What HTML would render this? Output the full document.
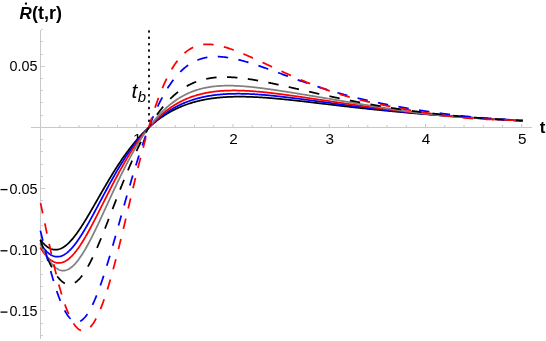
<!DOCTYPE html>
<html><head><meta charset="utf-8"><title>plot</title>
<style>
html,body{margin:0;padding:0;background:#fff;}
body{width:546px;height:341px;overflow:hidden;}
svg{display:block;font-family:"Liberation Sans",sans-serif;}
</style></head><body>
<div style="will-change:transform;width:546px;height:341px"><svg width="546" height="341" viewBox="0 0 546 341">
<rect width="546" height="341" fill="#fff"/>
<g stroke="#c8c8c8" stroke-width="1" fill="none" shape-rendering="crispEdges">
<line x1="31" y1="127.5" x2="532" y2="127.5"/>
<line x1="40.5" y1="29.5" x2="40.5" y2="338.6"/>
</g>
<g stroke="#cfcfcf" stroke-width="1" fill="none" shape-rendering="crispEdges">
<line x1="41.0" y1="335.50" x2="43.20" y2="335.50"/>
<line x1="41.0" y1="323.50" x2="43.20" y2="323.50"/>
<line x1="41.0" y1="310.50" x2="44.60" y2="310.50"/>
<line x1="41.0" y1="298.50" x2="43.20" y2="298.50"/>
<line x1="41.0" y1="286.50" x2="43.20" y2="286.50"/>
<line x1="41.0" y1="274.50" x2="43.20" y2="274.50"/>
<line x1="41.0" y1="261.50" x2="43.20" y2="261.50"/>
<line x1="41.0" y1="249.50" x2="44.60" y2="249.50"/>
<line x1="41.0" y1="237.50" x2="43.20" y2="237.50"/>
<line x1="41.0" y1="225.50" x2="43.20" y2="225.50"/>
<line x1="41.0" y1="213.50" x2="43.20" y2="213.50"/>
<line x1="41.0" y1="200.50" x2="43.20" y2="200.50"/>
<line x1="41.0" y1="188.50" x2="44.60" y2="188.50"/>
<line x1="41.0" y1="176.50" x2="43.20" y2="176.50"/>
<line x1="41.0" y1="164.50" x2="43.20" y2="164.50"/>
<line x1="41.0" y1="151.50" x2="43.20" y2="151.50"/>
<line x1="41.0" y1="139.50" x2="43.20" y2="139.50"/>
<line x1="41.0" y1="115.50" x2="43.20" y2="115.50"/>
<line x1="41.0" y1="102.50" x2="43.20" y2="102.50"/>
<line x1="41.0" y1="90.50" x2="43.20" y2="90.50"/>
<line x1="41.0" y1="78.50" x2="43.20" y2="78.50"/>
<line x1="41.0" y1="66.50" x2="44.60" y2="66.50"/>
<line x1="41.0" y1="54.50" x2="43.20" y2="54.50"/>
<line x1="41.0" y1="41.50" x2="43.20" y2="41.50"/>
<line x1="41.0" y1="29.50" x2="43.20" y2="29.50"/>
</g>
<g stroke="#c8c8c8" stroke-width="1" fill="none">
<line x1="59.75" y1="127.0" x2="59.75" y2="125.00"/>
<line x1="79.00" y1="127.0" x2="79.00" y2="125.00"/>
<line x1="98.25" y1="127.0" x2="98.25" y2="125.00"/>
<line x1="117.50" y1="127.0" x2="117.50" y2="125.00"/>
<line x1="136.75" y1="127.0" x2="136.75" y2="124.00"/>
<line x1="156.00" y1="127.0" x2="156.00" y2="125.00"/>
<line x1="175.25" y1="127.0" x2="175.25" y2="125.00"/>
<line x1="194.50" y1="127.0" x2="194.50" y2="125.00"/>
<line x1="213.75" y1="127.0" x2="213.75" y2="125.00"/>
<line x1="233.00" y1="127.0" x2="233.00" y2="124.00"/>
<line x1="252.25" y1="127.0" x2="252.25" y2="125.00"/>
<line x1="271.50" y1="127.0" x2="271.50" y2="125.00"/>
<line x1="290.75" y1="127.0" x2="290.75" y2="125.00"/>
<line x1="310.00" y1="127.0" x2="310.00" y2="125.00"/>
<line x1="329.25" y1="127.0" x2="329.25" y2="124.00"/>
<line x1="348.50" y1="127.0" x2="348.50" y2="125.00"/>
<line x1="367.75" y1="127.0" x2="367.75" y2="125.00"/>
<line x1="387.00" y1="127.0" x2="387.00" y2="125.00"/>
<line x1="406.25" y1="127.0" x2="406.25" y2="125.00"/>
<line x1="425.50" y1="127.0" x2="425.50" y2="124.00"/>
<line x1="444.75" y1="127.0" x2="444.75" y2="125.00"/>
<line x1="464.00" y1="127.0" x2="464.00" y2="125.00"/>
<line x1="483.25" y1="127.0" x2="483.25" y2="125.00"/>
<line x1="502.50" y1="127.0" x2="502.50" y2="125.00"/>
<line x1="521.75" y1="127.0" x2="521.75" y2="124.00"/>
</g>
<g font-size="14.4px" fill="#000">
<text x="137.15" y="143.9" text-anchor="middle" font-size="15.3px">1</text>
<text x="233.40" y="143.9" text-anchor="middle" font-size="15.3px">2</text>
<text x="329.65" y="143.9" text-anchor="middle" font-size="15.3px">3</text>
<text x="425.90" y="143.9" text-anchor="middle" font-size="15.3px">4</text>
<text x="522.15" y="143.9" text-anchor="middle" font-size="15.3px">5</text>
<text x="37.4" y="71.10" text-anchor="end">0.05</text>
<text x="37.4" y="193.60" text-anchor="end">0.05</text>
<rect x="0.55" y="188.95" width="6.95" height="1.3"/>
<text x="37.4" y="254.80" text-anchor="end">0.10</text>
<rect x="0.55" y="250.15" width="6.95" height="1.3"/>
<text x="37.4" y="316.10" text-anchor="end">0.15</text>
<rect x="0.55" y="311.45" width="6.95" height="1.3"/>
</g>
<g fill="#000">
<rect x="148.1" y="36.55" width="1.8" height="2.5" rx="0.6"/>
<rect x="148.1" y="42.93" width="1.8" height="2.5" rx="0.6"/>
<rect x="148.1" y="49.31" width="1.8" height="2.5" rx="0.6"/>
<rect x="148.1" y="55.69" width="1.8" height="2.5" rx="0.6"/>
<rect x="148.1" y="62.07" width="1.8" height="2.5" rx="0.6"/>
<rect x="148.1" y="68.45" width="1.8" height="2.5" rx="0.6"/>
<rect x="148.1" y="74.83" width="1.8" height="2.5" rx="0.6"/>
<rect x="148.1" y="81.21" width="1.8" height="2.5" rx="0.6"/>
<rect x="148.1" y="87.59" width="1.8" height="2.5" rx="0.6"/>
<rect x="148.1" y="93.97" width="1.8" height="2.5" rx="0.6"/>
<rect x="148.1" y="100.35" width="1.8" height="2.5" rx="0.6"/>
<rect x="148.1" y="106.73" width="1.8" height="2.5" rx="0.6"/>
<rect x="148.1" y="113.11" width="1.8" height="2.5" rx="0.6"/>
<rect x="148.1" y="119.49" width="1.8" height="2.5" rx="0.6"/>
<rect x="148.1" y="30.17" width="1.8" height="2.5" rx="0.6"/>
</g>
<g>
<path d="M40.31,239.65 L41.00,240.54 L41.69,241.40 L42.38,242.21 L43.07,242.99 L43.76,243.72 L44.45,244.41 L45.14,245.06 L45.83,245.67 L46.52,246.23 L47.21,246.75 L47.90,247.23 L48.59,247.67 L49.28,248.07 L49.97,248.42 L50.66,248.73 L51.35,249.00 L52.04,249.22 L52.73,249.41 L53.42,249.55 L54.11,249.65 L54.80,249.71 L55.49,249.73 L56.18,249.71 L56.87,249.65 L57.56,249.55 L58.25,249.41 L58.94,249.23 L59.63,249.01 L60.32,248.76 L61.01,248.47 L61.70,248.14 L62.39,247.78 L63.08,247.39 L63.77,246.95 L64.47,246.49 L65.16,245.99 L65.85,245.46 L66.54,244.90 L67.23,244.31 L67.92,243.69 L68.61,243.04 L69.30,242.36 L69.99,241.65 L70.68,240.91 L71.37,240.15 L72.06,239.37 L72.75,238.56 L73.44,237.72 L74.13,236.87 L74.82,235.99 L75.51,235.09 L76.20,234.16 L76.89,233.22 L77.58,232.26 L78.27,231.28 L78.96,230.29 L79.65,229.27 L80.34,228.24 L81.03,227.20 L81.72,226.14 L82.41,225.07 L83.10,223.98 L83.79,222.88 L84.48,221.77 L85.17,220.65 L85.86,219.52 L86.55,218.38 L87.24,217.23 L87.93,216.07 L88.62,214.91 L89.31,213.74 L90.00,212.56 L90.69,211.37 L91.38,210.18 L92.07,208.99 L92.76,207.79 L93.45,206.59 L94.14,205.39 L94.83,204.18 L95.52,202.97 L96.22,201.76 L96.91,200.55 L97.60,199.34 L98.29,198.13 L98.98,196.92 L99.67,195.72 L100.36,194.51 L101.05,193.30 L101.74,192.10 L102.43,190.90 L103.12,189.70 L103.81,188.51 L104.50,187.32 L105.19,186.13 L105.88,184.95 L106.57,183.77 L107.26,182.60 L107.95,181.44 L108.64,180.28 L109.33,179.12 L110.02,177.97 L110.71,176.83 L111.40,175.70 L112.09,174.57 L112.78,173.45 L113.47,172.33 L114.16,171.23 L114.85,170.13 L115.54,169.04 L116.23,167.96 L116.92,166.88 L117.61,165.82 L118.30,164.76 L118.99,163.71 L119.68,162.67 L120.37,161.64 L121.06,160.62 L121.75,159.60 L122.44,158.60 L123.13,157.60 L123.82,156.62 L124.51,155.64 L125.20,154.68 L125.89,153.72 L126.58,152.77 L127.27,151.84 L127.97,150.91 L128.66,149.99 L129.35,149.08 L130.04,148.18 L130.73,147.30 L131.42,146.42 L132.11,145.55 L132.80,144.69 L133.49,143.84 L134.18,143.00 L134.87,142.17 L135.56,141.35 L136.25,140.54 L136.94,139.74 L137.63,138.95 L138.32,138.17 L139.01,137.40 L139.70,136.64 L140.39,135.89 L141.08,135.15 L141.77,134.42 L142.46,133.69 L143.15,132.98 L143.84,132.28 L144.53,131.59 L145.22,130.90 L145.91,130.23 L146.60,129.56 L147.29,128.90 L147.98,128.26 L148.67,127.62 L149.36,126.99 L150.05,126.37 L150.74,125.76 L151.43,125.15 L152.12,124.56 L152.81,123.98 L153.50,123.40 L154.19,122.83 L154.88,122.27 L155.57,121.72 L156.26,121.18 L156.95,120.64 L157.64,120.12 L158.33,119.60 L159.03,119.09 L159.72,118.59 L160.41,118.09 L161.10,117.61 L161.79,117.13 L162.48,116.66 L163.17,116.20 L163.86,115.74 L164.55,115.29 L165.24,114.85 L165.93,114.42 L166.62,113.99 L167.31,113.57 L168.00,113.16 L168.69,112.76 L169.38,112.36 L170.07,111.97 L170.76,111.59 L171.45,111.21 L172.14,110.84 L172.83,110.47 L173.52,110.12 L174.21,109.76 L174.90,109.42 L175.59,109.08 L176.28,108.75 L176.97,108.42 L177.66,108.10 L178.35,107.79 L179.04,107.48 L179.73,107.18 L180.42,106.88 L181.11,106.59 L181.80,106.30 L182.49,106.02 L183.18,105.75 L183.87,105.48 L184.56,105.22 L185.25,104.96 L185.94,104.71 L186.63,104.46 L187.32,104.21 L188.01,103.98 L188.70,103.74 L189.39,103.52 L190.08,103.29 L190.78,103.08 L191.47,102.86 L192.16,102.65 L192.85,102.45 L193.54,102.25 L194.23,102.06 L194.92,101.86 L195.61,101.68 L196.30,101.50 L196.99,101.32 L197.68,101.15 L198.37,100.98 L199.06,100.81 L199.75,100.65 L200.44,100.49 L201.13,100.34 L201.82,100.19 L202.51,100.04 L203.20,99.90 L203.89,99.77 L204.58,99.63 L205.27,99.50 L205.96,99.37 L206.65,99.25 L207.34,99.13 L208.03,99.01 L208.72,98.90 L209.41,98.79 L210.10,98.68 L210.79,98.58 L211.48,98.48 L212.17,98.39 L212.86,98.29 L213.55,98.20 L214.24,98.11 L214.93,98.03 L215.62,97.95 L216.31,97.87 L217.00,97.79 L217.69,97.72 L218.38,97.65 L219.07,97.58 L219.76,97.52 L220.45,97.46 L221.14,97.40 L221.83,97.34 L222.53,97.29 L223.22,97.24 L223.91,97.19 L224.60,97.14 L225.29,97.10 L225.98,97.05 L226.67,97.02 L227.36,96.98 L228.05,96.94 L228.74,96.91 L229.43,96.88 L230.12,96.85 L230.81,96.83 L231.50,96.80 L232.19,96.78 L232.88,96.76 L233.57,96.75 L234.26,96.73 L234.95,96.72 L235.64,96.71 L236.33,96.70 L237.02,96.69 L237.71,96.68 L238.40,96.68 L239.09,96.68 L239.78,96.68 L240.47,96.68 L241.16,96.68 L241.85,96.69 L242.54,96.69 L243.23,96.70 L243.92,96.71 L244.61,96.72 L245.30,96.73 L245.99,96.75 L246.68,96.77 L247.37,96.78 L248.06,96.80 L248.75,96.82 L249.44,96.84 L250.13,96.87 L250.82,96.89 L251.51,96.92 L252.20,96.95 L252.89,96.97 L253.59,97.01 L254.28,97.04 L254.97,97.07 L255.66,97.10 L256.35,97.14 L257.04,97.17 L257.73,97.21 L258.42,97.25 L259.11,97.29 L259.80,97.33 L260.49,97.37 L261.18,97.42 L261.87,97.46 L262.56,97.50 L263.25,97.55 L263.94,97.60 L264.63,97.65 L265.32,97.69 L266.01,97.74 L266.70,97.80 L267.39,97.85 L268.08,97.90 L268.77,97.95 L269.46,98.01 L270.15,98.06 L270.84,98.12 L271.53,98.18 L272.22,98.23 L272.91,98.29 L273.60,98.35 L274.29,98.41 L274.98,98.47 L275.67,98.53 L276.36,98.59 L277.05,98.66 L277.74,98.72 L278.43,98.78 L279.12,98.85 L279.81,98.91 L280.50,98.98 L281.19,99.05 L281.88,99.11 L282.57,99.18 L283.26,99.25 L283.95,99.32 L284.64,99.39 L285.34,99.46 L286.03,99.53 L286.72,99.60 L287.41,99.67 L288.10,99.74 L288.79,99.81 L289.48,99.89 L290.17,99.96 L290.86,100.03 L291.55,100.11 L292.24,100.18 L292.93,100.25 L293.62,100.33 L294.31,100.40 L295.00,100.48 L295.69,100.56 L296.38,100.63 L297.07,100.71 L297.76,100.79 L298.45,100.86 L299.14,100.94 L299.83,101.02 L300.52,101.10 L301.21,101.17 L301.90,101.25 L302.59,101.33 L303.28,101.41 L303.97,101.49 L304.66,101.57 L305.35,101.65 L306.04,101.73 L306.73,101.81 L307.42,101.89 L308.11,101.97 L308.80,102.05 L309.49,102.13 L310.18,102.21 L310.87,102.29 L311.56,102.37 L312.25,102.45 L312.94,102.53 L313.63,102.62 L314.32,102.70 L315.01,102.78 L315.70,102.86 L316.39,102.94 L317.09,103.02 L317.78,103.11 L318.47,103.19 L319.16,103.27 L319.85,103.35 L320.54,103.43 L321.23,103.51 L321.92,103.60 L322.61,103.68 L323.30,103.76 L323.99,103.84 L324.68,103.92 L325.37,104.00 L326.06,104.09 L326.75,104.17 L327.44,104.25 L328.13,104.33 L328.82,104.41 L329.51,104.50 L330.20,104.58 L330.89,104.66 L331.58,104.74 L332.27,104.82 L332.96,104.90 L333.65,104.98 L334.34,105.06 L335.03,105.15 L335.72,105.23 L336.41,105.31 L337.10,105.39 L337.79,105.47 L338.48,105.55 L339.17,105.63 L339.86,105.71 L340.55,105.79 L341.24,105.87 L341.93,105.95 L342.62,106.03 L343.31,106.11 L344.00,106.19 L344.69,106.27 L345.38,106.35 L346.07,106.43 L346.76,106.50 L347.45,106.58 L348.15,106.66 L348.84,106.74 L349.53,106.82 L350.22,106.90 L350.91,106.97 L351.60,107.05 L352.29,107.13 L352.98,107.21 L353.67,107.28 L354.36,107.36 L355.05,107.44 L355.74,107.52 L356.43,107.59 L357.12,107.67 L357.81,107.74 L358.50,107.82 L359.19,107.90 L359.88,107.97 L360.57,108.05 L361.26,108.12 L361.95,108.20 L362.64,108.27 L363.33,108.35 L364.02,108.42 L364.71,108.49 L365.40,108.57 L366.09,108.64 L366.78,108.72 L367.47,108.79 L368.16,108.86 L368.85,108.93 L369.54,109.01 L370.23,109.08 L370.92,109.15 L371.61,109.22 L372.30,109.30 L372.99,109.37 L373.68,109.44 L374.37,109.51 L375.06,109.58 L375.75,109.65 L376.44,109.72 L377.13,109.79 L377.82,109.86 L378.51,109.93 L379.20,110.00 L379.90,110.07 L380.59,110.14 L381.28,110.21 L381.97,110.28 L382.66,110.35 L383.35,110.41 L384.04,110.48 L384.73,110.55 L385.42,110.62 L386.11,110.69 L386.80,110.75 L387.49,110.82 L388.18,110.89 L388.87,110.95 L389.56,111.02 L390.25,111.09 L390.94,111.15 L391.63,111.22 L392.32,111.28 L393.01,111.35 L393.70,111.41 L394.39,111.48 L395.08,111.54 L395.77,111.61 L396.46,111.67 L397.15,111.74 L397.84,111.80 L398.53,111.86 L399.22,111.93 L399.91,111.99 L400.60,112.05 L401.29,112.11 L401.98,112.18 L402.67,112.24 L403.36,112.30 L404.05,112.36 L404.74,112.43 L405.43,112.49 L406.12,112.55 L406.81,112.61 L407.50,112.67 L408.19,112.73 L408.88,112.79 L409.57,112.85 L410.26,112.91 L410.95,112.97 L411.65,113.03 L412.34,113.09 L413.03,113.15 L413.72,113.21 L414.41,113.27 L415.10,113.33 L415.79,113.39 L416.48,113.44 L417.17,113.50 L417.86,113.56 L418.55,113.62 L419.24,113.68 L419.93,113.73 L420.62,113.79 L421.31,113.85 L422.00,113.91 L422.69,113.96 L423.38,114.02 L424.07,114.08 L424.76,114.13 L425.45,114.19 L426.14,114.24 L426.83,114.30 L427.52,114.35 L428.21,114.41 L428.90,114.47 L429.59,114.52 L430.28,114.58 L430.97,114.63 L431.66,114.69 L432.35,114.74 L433.04,114.79 L433.73,114.85 L434.42,114.90 L435.11,114.96 L435.80,115.01 L436.49,115.06 L437.18,115.12 L437.87,115.17 L438.56,115.22 L439.25,115.28 L439.94,115.33 L440.63,115.38 L441.32,115.43 L442.01,115.49 L442.71,115.54 L443.40,115.59 L444.09,115.64 L444.78,115.69 L445.47,115.75 L446.16,115.80 L446.85,115.85 L447.54,115.90 L448.23,115.95 L448.92,116.00 L449.61,116.05 L450.30,116.10 L450.99,116.16 L451.68,116.21 L452.37,116.26 L453.06,116.31 L453.75,116.36 L454.44,116.41 L455.13,116.46 L455.82,116.51 L456.51,116.56 L457.20,116.60 L457.89,116.65 L458.58,116.70 L459.27,116.75 L459.96,116.80 L460.65,116.85 L461.34,116.90 L462.03,116.95 L462.72,117.00 L463.41,117.04 L464.10,117.09 L464.79,117.14 L465.48,117.19 L466.17,117.24 L466.86,117.28 L467.55,117.33 L468.24,117.38 L468.93,117.43 L469.62,117.47 L470.31,117.52 L471.00,117.57 L471.69,117.61 L472.38,117.66 L473.07,117.71 L473.76,117.75 L474.46,117.80 L475.15,117.85 L475.84,117.89 L476.53,117.94 L477.22,117.99 L477.91,118.03 L478.60,118.08 L479.29,118.12 L479.98,118.17 L480.67,118.21 L481.36,118.26 L482.05,118.30 L482.74,118.35 L483.43,118.39 L484.12,118.44 L484.81,118.48 L485.50,118.53 L486.19,118.57 L486.88,118.61 L487.57,118.66 L488.26,118.70 L488.95,118.75 L489.64,118.79 L490.33,118.83 L491.02,118.88 L491.71,118.92 L492.40,118.96 L493.09,119.01 L493.78,119.05 L494.47,119.09 L495.16,119.13 L495.85,119.18 L496.54,119.22 L497.23,119.26 L497.92,119.30 L498.61,119.34 L499.30,119.38 L499.99,119.43 L500.68,119.47 L501.37,119.51 L502.06,119.55 L502.75,119.59 L503.44,119.63 L504.13,119.67 L504.82,119.71 L505.51,119.75 L506.21,119.79 L506.90,119.83 L507.59,119.87 L508.28,119.91 L508.97,119.95 L509.66,119.99 L510.35,120.03 L511.04,120.07 L511.73,120.11 L512.42,120.15 L513.11,120.18 L513.80,120.22 L514.49,120.26 L515.18,120.30 L515.87,120.34 L516.56,120.37 L517.25,120.41 L517.94,120.45 L518.63,120.48 L519.32,120.52 L520.01,120.56 L520.70,120.59 L521.39,120.63 L522.08,120.67 L522.77,120.70" fill="none" stroke="#000000" stroke-width="1.75"/>
<path d="M40.31,243.42 L41.00,244.47 L41.69,245.48 L42.38,246.45 L43.07,247.38 L43.76,248.26 L44.45,249.11 L45.14,249.91 L45.83,250.66 L46.52,251.38 L47.21,252.04 L47.90,252.67 L48.59,253.25 L49.28,253.78 L49.97,254.27 L50.66,254.72 L51.35,255.12 L52.04,255.48 L52.73,255.79 L53.42,256.06 L54.11,256.28 L54.80,256.46 L55.49,256.59 L56.18,256.68 L56.87,256.73 L57.56,256.74 L58.25,256.70 L58.94,256.62 L59.63,256.50 L60.32,256.33 L61.01,256.13 L61.70,255.89 L62.39,255.60 L63.08,255.28 L63.77,254.92 L64.47,254.52 L65.16,254.09 L65.85,253.62 L66.54,253.11 L67.23,252.57 L67.92,251.99 L68.61,251.38 L69.30,250.74 L69.99,250.07 L70.68,249.37 L71.37,248.63 L72.06,247.87 L72.75,247.07 L73.44,246.25 L74.13,245.41 L74.82,244.53 L75.51,243.64 L76.20,242.71 L76.89,241.77 L77.58,240.80 L78.27,239.80 L78.96,238.79 L79.65,237.76 L80.34,236.71 L81.03,235.64 L81.72,234.55 L82.41,233.44 L83.10,232.32 L83.79,231.18 L84.48,230.03 L85.17,228.86 L85.86,227.68 L86.55,226.49 L87.24,225.29 L87.93,224.07 L88.62,222.85 L89.31,221.61 L90.00,220.37 L90.69,219.12 L91.38,217.86 L92.07,216.59 L92.76,215.32 L93.45,214.05 L94.14,212.76 L94.83,211.48 L95.52,210.19 L96.22,208.90 L96.91,207.60 L97.60,206.30 L98.29,205.01 L98.98,203.71 L99.67,202.41 L100.36,201.11 L101.05,199.81 L101.74,198.51 L102.43,197.22 L103.12,195.92 L103.81,194.63 L104.50,193.34 L105.19,192.06 L105.88,190.77 L106.57,189.50 L107.26,188.22 L107.95,186.96 L108.64,185.69 L109.33,184.43 L110.02,183.18 L110.71,181.94 L111.40,180.70 L112.09,179.47 L112.78,178.24 L113.47,177.02 L114.16,175.81 L114.85,174.61 L115.54,173.41 L116.23,172.23 L116.92,171.05 L117.61,169.88 L118.30,168.71 L118.99,167.56 L119.68,166.42 L120.37,165.28 L121.06,164.16 L121.75,163.04 L122.44,161.94 L123.13,160.84 L123.82,159.76 L124.51,158.68 L125.20,157.61 L125.89,156.56 L126.58,155.51 L127.27,154.48 L127.97,153.45 L128.66,152.44 L129.35,151.43 L130.04,150.44 L130.73,149.45 L131.42,148.48 L132.11,147.52 L132.80,146.57 L133.49,145.63 L134.18,144.70 L134.87,143.78 L135.56,142.87 L136.25,141.98 L136.94,141.09 L137.63,140.21 L138.32,139.35 L139.01,138.49 L139.70,137.65 L140.39,136.82 L141.08,135.99 L141.77,135.18 L142.46,134.38 L143.15,133.59 L143.84,132.81 L144.53,132.04 L145.22,131.28 L145.91,130.53 L146.60,129.79 L147.29,129.06 L147.98,128.34 L148.67,127.63 L149.36,126.93 L150.05,126.24 L150.74,125.56 L151.43,124.89 L152.12,124.24 L152.81,123.59 L153.50,122.95 L154.19,122.32 L154.88,121.69 L155.57,121.08 L156.26,120.48 L156.95,119.89 L157.64,119.30 L158.33,118.73 L159.03,118.16 L159.72,117.61 L160.41,117.06 L161.10,116.52 L161.79,115.99 L162.48,115.47 L163.17,114.95 L163.86,114.45 L164.55,113.95 L165.24,113.47 L165.93,112.99 L166.62,112.51 L167.31,112.05 L168.00,111.60 L168.69,111.15 L169.38,110.71 L170.07,110.28 L170.76,109.85 L171.45,109.43 L172.14,109.02 L172.83,108.62 L173.52,108.23 L174.21,107.84 L174.90,107.46 L175.59,107.08 L176.28,106.72 L176.97,106.36 L177.66,106.01 L178.35,105.66 L179.04,105.32 L179.73,104.99 L180.42,104.66 L181.11,104.34 L181.80,104.03 L182.49,103.72 L183.18,103.42 L183.87,103.12 L184.56,102.83 L185.25,102.55 L185.94,102.27 L186.63,102.00 L187.32,101.74 L188.01,101.48 L188.70,101.22 L189.39,100.97 L190.08,100.73 L190.78,100.49 L191.47,100.26 L192.16,100.03 L192.85,99.81 L193.54,99.59 L194.23,99.38 L194.92,99.17 L195.61,98.97 L196.30,98.77 L196.99,98.58 L197.68,98.39 L198.37,98.21 L199.06,98.03 L199.75,97.86 L200.44,97.69 L201.13,97.52 L201.82,97.36 L202.51,97.20 L203.20,97.05 L203.89,96.90 L204.58,96.76 L205.27,96.62 L205.96,96.48 L206.65,96.35 L207.34,96.22 L208.03,96.10 L208.72,95.98 L209.41,95.86 L210.10,95.75 L210.79,95.64 L211.48,95.54 L212.17,95.43 L212.86,95.33 L213.55,95.24 L214.24,95.15 L214.93,95.06 L215.62,94.97 L216.31,94.89 L217.00,94.81 L217.69,94.74 L218.38,94.67 L219.07,94.60 L219.76,94.53 L220.45,94.47 L221.14,94.41 L221.83,94.35 L222.53,94.29 L223.22,94.24 L223.91,94.19 L224.60,94.15 L225.29,94.10 L225.98,94.06 L226.67,94.02 L227.36,93.99 L228.05,93.95 L228.74,93.92 L229.43,93.90 L230.12,93.87 L230.81,93.85 L231.50,93.82 L232.19,93.81 L232.88,93.79 L233.57,93.78 L234.26,93.76 L234.95,93.75 L235.64,93.75 L236.33,93.74 L237.02,93.74 L237.71,93.74 L238.40,93.74 L239.09,93.74 L239.78,93.74 L240.47,93.75 L241.16,93.76 L241.85,93.77 L242.54,93.78 L243.23,93.79 L243.92,93.81 L244.61,93.83 L245.30,93.85 L245.99,93.87 L246.68,93.89 L247.37,93.91 L248.06,93.94 L248.75,93.97 L249.44,94.00 L250.13,94.03 L250.82,94.06 L251.51,94.09 L252.20,94.13 L252.89,94.16 L253.59,94.20 L254.28,94.24 L254.97,94.28 L255.66,94.32 L256.35,94.37 L257.04,94.41 L257.73,94.46 L258.42,94.50 L259.11,94.55 L259.80,94.60 L260.49,94.65 L261.18,94.70 L261.87,94.76 L262.56,94.81 L263.25,94.87 L263.94,94.92 L264.63,94.98 L265.32,95.04 L266.01,95.10 L266.70,95.16 L267.39,95.22 L268.08,95.28 L268.77,95.35 L269.46,95.41 L270.15,95.48 L270.84,95.54 L271.53,95.61 L272.22,95.68 L272.91,95.74 L273.60,95.81 L274.29,95.88 L274.98,95.96 L275.67,96.03 L276.36,96.10 L277.05,96.17 L277.74,96.25 L278.43,96.32 L279.12,96.40 L279.81,96.47 L280.50,96.55 L281.19,96.63 L281.88,96.70 L282.57,96.78 L283.26,96.86 L283.95,96.94 L284.64,97.02 L285.34,97.10 L286.03,97.19 L286.72,97.27 L287.41,97.35 L288.10,97.43 L288.79,97.52 L289.48,97.60 L290.17,97.68 L290.86,97.77 L291.55,97.85 L292.24,97.94 L292.93,98.03 L293.62,98.11 L294.31,98.20 L295.00,98.29 L295.69,98.37 L296.38,98.46 L297.07,98.55 L297.76,98.64 L298.45,98.73 L299.14,98.82 L299.83,98.91 L300.52,99.00 L301.21,99.09 L301.90,99.18 L302.59,99.27 L303.28,99.36 L303.97,99.45 L304.66,99.54 L305.35,99.63 L306.04,99.72 L306.73,99.82 L307.42,99.91 L308.11,100.00 L308.80,100.09 L309.49,100.19 L310.18,100.28 L310.87,100.37 L311.56,100.46 L312.25,100.56 L312.94,100.65 L313.63,100.74 L314.32,100.84 L315.01,100.93 L315.70,101.02 L316.39,101.12 L317.09,101.21 L317.78,101.30 L318.47,101.40 L319.16,101.49 L319.85,101.59 L320.54,101.68 L321.23,101.77 L321.92,101.87 L322.61,101.96 L323.30,102.06 L323.99,102.15 L324.68,102.24 L325.37,102.34 L326.06,102.43 L326.75,102.53 L327.44,102.62 L328.13,102.71 L328.82,102.81 L329.51,102.90 L330.20,102.99 L330.89,103.09 L331.58,103.18 L332.27,103.27 L332.96,103.37 L333.65,103.46 L334.34,103.55 L335.03,103.65 L335.72,103.74 L336.41,103.83 L337.10,103.92 L337.79,104.02 L338.48,104.11 L339.17,104.20 L339.86,104.29 L340.55,104.39 L341.24,104.48 L341.93,104.57 L342.62,104.66 L343.31,104.75 L344.00,104.84 L344.69,104.94 L345.38,105.03 L346.07,105.12 L346.76,105.21 L347.45,105.30 L348.15,105.39 L348.84,105.48 L349.53,105.57 L350.22,105.66 L350.91,105.75 L351.60,105.84 L352.29,105.93 L352.98,106.02 L353.67,106.10 L354.36,106.19 L355.05,106.28 L355.74,106.37 L356.43,106.46 L357.12,106.54 L357.81,106.63 L358.50,106.72 L359.19,106.81 L359.88,106.89 L360.57,106.98 L361.26,107.07 L361.95,107.15 L362.64,107.24 L363.33,107.32 L364.02,107.41 L364.71,107.49 L365.40,107.58 L366.09,107.66 L366.78,107.75 L367.47,107.83 L368.16,107.92 L368.85,108.00 L369.54,108.08 L370.23,108.17 L370.92,108.25 L371.61,108.33 L372.30,108.42 L372.99,108.50 L373.68,108.58 L374.37,108.66 L375.06,108.74 L375.75,108.83 L376.44,108.91 L377.13,108.99 L377.82,109.07 L378.51,109.15 L379.20,109.23 L379.90,109.31 L380.59,109.39 L381.28,109.47 L381.97,109.54 L382.66,109.62 L383.35,109.70 L384.04,109.78 L384.73,109.86 L385.42,109.94 L386.11,110.01 L386.80,110.09 L387.49,110.17 L388.18,110.24 L388.87,110.32 L389.56,110.40 L390.25,110.47 L390.94,110.55 L391.63,110.62 L392.32,110.70 L393.01,110.77 L393.70,110.85 L394.39,110.92 L395.08,110.99 L395.77,111.07 L396.46,111.14 L397.15,111.21 L397.84,111.29 L398.53,111.36 L399.22,111.43 L399.91,111.50 L400.60,111.58 L401.29,111.65 L401.98,111.72 L402.67,111.79 L403.36,111.86 L404.05,111.93 L404.74,112.00 L405.43,112.07 L406.12,112.14 L406.81,112.21 L407.50,112.28 L408.19,112.35 L408.88,112.42 L409.57,112.49 L410.26,112.56 L410.95,112.62 L411.65,112.69 L412.34,112.76 L413.03,112.83 L413.72,112.89 L414.41,112.96 L415.10,113.03 L415.79,113.09 L416.48,113.16 L417.17,113.22 L417.86,113.29 L418.55,113.36 L419.24,113.42 L419.93,113.48 L420.62,113.55 L421.31,113.61 L422.00,113.68 L422.69,113.74 L423.38,113.81 L424.07,113.87 L424.76,113.93 L425.45,113.99 L426.14,114.06 L426.83,114.12 L427.52,114.18 L428.21,114.24 L428.90,114.31 L429.59,114.37 L430.28,114.43 L430.97,114.49 L431.66,114.55 L432.35,114.61 L433.04,114.67 L433.73,114.73 L434.42,114.79 L435.11,114.85 L435.80,114.91 L436.49,114.97 L437.18,115.03 L437.87,115.09 L438.56,115.14 L439.25,115.20 L439.94,115.26 L440.63,115.32 L441.32,115.38 L442.01,115.43 L442.71,115.49 L443.40,115.55 L444.09,115.60 L444.78,115.66 L445.47,115.72 L446.16,115.77 L446.85,115.83 L447.54,115.88 L448.23,115.94 L448.92,116.00 L449.61,116.05 L450.30,116.10 L450.99,116.16 L451.68,116.21 L452.37,116.27 L453.06,116.32 L453.75,116.38 L454.44,116.43 L455.13,116.48 L455.82,116.54 L456.51,116.59 L457.20,116.64 L457.89,116.69 L458.58,116.75 L459.27,116.80 L459.96,116.85 L460.65,116.90 L461.34,116.95 L462.03,117.00 L462.72,117.05 L463.41,117.11 L464.10,117.16 L464.79,117.21 L465.48,117.26 L466.17,117.31 L466.86,117.36 L467.55,117.41 L468.24,117.45 L468.93,117.50 L469.62,117.55 L470.31,117.60 L471.00,117.65 L471.69,117.70 L472.38,117.75 L473.07,117.79 L473.76,117.84 L474.46,117.89 L475.15,117.94 L475.84,117.98 L476.53,118.03 L477.22,118.08 L477.91,118.12 L478.60,118.17 L479.29,118.22 L479.98,118.26 L480.67,118.31 L481.36,118.35 L482.05,118.40 L482.74,118.44 L483.43,118.49 L484.12,118.53 L484.81,118.58 L485.50,118.62 L486.19,118.66 L486.88,118.71 L487.57,118.75 L488.26,118.79 L488.95,118.84 L489.64,118.88 L490.33,118.92 L491.02,118.96 L491.71,119.01 L492.40,119.05 L493.09,119.09 L493.78,119.13 L494.47,119.17 L495.16,119.21 L495.85,119.26 L496.54,119.30 L497.23,119.34 L497.92,119.38 L498.61,119.42 L499.30,119.46 L499.99,119.49 L500.68,119.53 L501.37,119.57 L502.06,119.61 L502.75,119.65 L503.44,119.69 L504.13,119.73 L504.82,119.76 L505.51,119.80 L506.21,119.84 L506.90,119.88 L507.59,119.91 L508.28,119.95 L508.97,119.99 L509.66,120.02 L510.35,120.06 L511.04,120.09 L511.73,120.13 L512.42,120.16 L513.11,120.20 L513.80,120.23 L514.49,120.27 L515.18,120.30 L515.87,120.33 L516.56,120.37 L517.25,120.40 L517.94,120.43 L518.63,120.47 L519.32,120.50 L520.01,120.53 L520.70,120.56 L521.39,120.60 L522.08,120.63 L522.77,120.66" fill="none" stroke="#0000ff" stroke-width="1.75"/>
<path d="M40.31,247.56 L41.00,248.66 L41.69,249.73 L42.38,250.76 L43.07,251.75 L43.76,252.70 L44.45,253.61 L45.14,254.49 L45.83,255.32 L46.52,256.10 L47.21,256.85 L47.90,257.55 L48.59,258.22 L49.28,258.84 L49.97,259.41 L50.66,259.94 L51.35,260.43 L52.04,260.88 L52.73,261.28 L53.42,261.64 L54.11,261.96 L54.80,262.23 L55.49,262.46 L56.18,262.64 L56.87,262.79 L57.56,262.89 L58.25,262.94 L58.94,262.96 L59.63,262.93 L60.32,262.86 L61.01,262.75 L61.70,262.60 L62.39,262.41 L63.08,262.18 L63.77,261.91 L64.47,261.60 L65.16,261.25 L65.85,260.86 L66.54,260.44 L67.23,259.98 L67.92,259.48 L68.61,258.95 L69.30,258.38 L69.99,257.78 L70.68,257.14 L71.37,256.47 L72.06,255.77 L72.75,255.04 L73.44,254.28 L74.13,253.49 L74.82,252.66 L75.51,251.81 L76.20,250.94 L76.89,250.03 L77.58,249.10 L78.27,248.14 L78.96,247.16 L79.65,246.16 L80.34,245.13 L81.03,244.08 L81.72,243.01 L82.41,241.92 L83.10,240.80 L83.79,239.67 L84.48,238.52 L85.17,237.36 L85.86,236.17 L86.55,234.97 L87.24,233.76 L87.93,232.53 L88.62,231.29 L89.31,230.03 L90.00,228.76 L90.69,227.48 L91.38,226.19 L92.07,224.89 L92.76,223.58 L93.45,222.26 L94.14,220.93 L94.83,219.59 L95.52,218.25 L96.22,216.90 L96.91,215.55 L97.60,214.19 L98.29,212.83 L98.98,211.46 L99.67,210.09 L100.36,208.72 L101.05,207.34 L101.74,205.97 L102.43,204.59 L103.12,203.21 L103.81,201.84 L104.50,200.46 L105.19,199.08 L105.88,197.71 L106.57,196.34 L107.26,194.97 L107.95,193.60 L108.64,192.24 L109.33,190.88 L110.02,189.52 L110.71,188.17 L111.40,186.83 L112.09,185.49 L112.78,184.15 L113.47,182.82 L114.16,181.50 L114.85,180.18 L115.54,178.88 L116.23,177.57 L116.92,176.28 L117.61,174.99 L118.30,173.71 L118.99,172.44 L119.68,171.18 L120.37,169.93 L121.06,168.68 L121.75,167.45 L122.44,166.22 L123.13,165.00 L123.82,163.80 L124.51,162.60 L125.20,161.41 L125.89,160.24 L126.58,159.07 L127.27,157.91 L127.97,156.77 L128.66,155.63 L129.35,154.51 L130.04,153.39 L130.73,152.29 L131.42,151.20 L132.11,150.12 L132.80,149.05 L133.49,148.00 L134.18,146.95 L134.87,145.91 L135.56,144.89 L136.25,143.88 L136.94,142.88 L137.63,141.89 L138.32,140.91 L139.01,139.95 L139.70,139.00 L140.39,138.05 L141.08,137.12 L141.77,136.20 L142.46,135.30 L143.15,134.40 L143.84,133.52 L144.53,132.64 L145.22,131.78 L145.91,130.93 L146.60,130.09 L147.29,129.27 L147.98,128.45 L148.67,127.65 L149.36,126.86 L150.05,126.07 L150.74,125.30 L151.43,124.54 L152.12,123.80 L152.81,123.06 L153.50,122.33 L154.19,121.62 L154.88,120.91 L155.57,120.22 L156.26,119.54 L156.95,118.87 L157.64,118.20 L158.33,117.55 L159.03,116.91 L159.72,116.28 L160.41,115.66 L161.10,115.05 L161.79,114.45 L162.48,113.86 L163.17,113.28 L163.86,112.71 L164.55,112.15 L165.24,111.60 L165.93,111.06 L166.62,110.53 L167.31,110.01 L168.00,109.49 L168.69,108.99 L169.38,108.50 L170.07,108.01 L170.76,107.53 L171.45,107.07 L172.14,106.61 L172.83,106.16 L173.52,105.72 L174.21,105.28 L174.90,104.86 L175.59,104.44 L176.28,104.03 L176.97,103.63 L177.66,103.24 L178.35,102.85 L179.04,102.48 L179.73,102.11 L180.42,101.75 L181.11,101.39 L181.80,101.05 L182.49,100.71 L183.18,100.38 L183.87,100.05 L184.56,99.73 L185.25,99.42 L185.94,99.12 L186.63,98.82 L187.32,98.53 L188.01,98.25 L188.70,97.97 L189.39,97.70 L190.08,97.44 L190.78,97.18 L191.47,96.93 L192.16,96.69 L192.85,96.45 L193.54,96.22 L194.23,95.99 L194.92,95.77 L195.61,95.55 L196.30,95.34 L196.99,95.14 L197.68,94.94 L198.37,94.74 L199.06,94.56 L199.75,94.37 L200.44,94.20 L201.13,94.02 L201.82,93.86 L202.51,93.69 L203.20,93.54 L203.89,93.38 L204.58,93.23 L205.27,93.09 L205.96,92.95 L206.65,92.82 L207.34,92.69 L208.03,92.56 L208.72,92.44 L209.41,92.33 L210.10,92.21 L210.79,92.11 L211.48,92.00 L212.17,91.90 L212.86,91.80 L213.55,91.71 L214.24,91.62 L214.93,91.54 L215.62,91.46 L216.31,91.38 L217.00,91.31 L217.69,91.24 L218.38,91.17 L219.07,91.11 L219.76,91.05 L220.45,90.99 L221.14,90.94 L221.83,90.89 L222.53,90.84 L223.22,90.80 L223.91,90.76 L224.60,90.72 L225.29,90.68 L225.98,90.65 L226.67,90.62 L227.36,90.60 L228.05,90.57 L228.74,90.55 L229.43,90.53 L230.12,90.52 L230.81,90.51 L231.50,90.50 L232.19,90.49 L232.88,90.48 L233.57,90.48 L234.26,90.48 L234.95,90.48 L235.64,90.49 L236.33,90.49 L237.02,90.50 L237.71,90.51 L238.40,90.52 L239.09,90.54 L239.78,90.56 L240.47,90.58 L241.16,90.60 L241.85,90.62 L242.54,90.64 L243.23,90.67 L243.92,90.70 L244.61,90.73 L245.30,90.76 L245.99,90.80 L246.68,90.83 L247.37,90.87 L248.06,90.91 L248.75,90.95 L249.44,90.99 L250.13,91.04 L250.82,91.08 L251.51,91.13 L252.20,91.18 L252.89,91.23 L253.59,91.28 L254.28,91.33 L254.97,91.38 L255.66,91.44 L256.35,91.50 L257.04,91.55 L257.73,91.61 L258.42,91.67 L259.11,91.74 L259.80,91.80 L260.49,91.86 L261.18,91.93 L261.87,91.99 L262.56,92.06 L263.25,92.13 L263.94,92.20 L264.63,92.27 L265.32,92.34 L266.01,92.41 L266.70,92.49 L267.39,92.56 L268.08,92.64 L268.77,92.71 L269.46,92.79 L270.15,92.87 L270.84,92.94 L271.53,93.02 L272.22,93.10 L272.91,93.19 L273.60,93.27 L274.29,93.35 L274.98,93.43 L275.67,93.52 L276.36,93.60 L277.05,93.69 L277.74,93.77 L278.43,93.86 L279.12,93.95 L279.81,94.04 L280.50,94.12 L281.19,94.21 L281.88,94.30 L282.57,94.39 L283.26,94.48 L283.95,94.57 L284.64,94.67 L285.34,94.76 L286.03,94.85 L286.72,94.94 L287.41,95.04 L288.10,95.13 L288.79,95.23 L289.48,95.32 L290.17,95.42 L290.86,95.51 L291.55,95.61 L292.24,95.71 L292.93,95.80 L293.62,95.90 L294.31,96.00 L295.00,96.10 L295.69,96.19 L296.38,96.29 L297.07,96.39 L297.76,96.49 L298.45,96.59 L299.14,96.69 L299.83,96.79 L300.52,96.89 L301.21,96.99 L301.90,97.09 L302.59,97.19 L303.28,97.29 L303.97,97.39 L304.66,97.49 L305.35,97.59 L306.04,97.70 L306.73,97.80 L307.42,97.90 L308.11,98.00 L308.80,98.10 L309.49,98.21 L310.18,98.31 L310.87,98.41 L311.56,98.51 L312.25,98.62 L312.94,98.72 L313.63,98.82 L314.32,98.93 L315.01,99.03 L315.70,99.13 L316.39,99.24 L317.09,99.34 L317.78,99.44 L318.47,99.54 L319.16,99.65 L319.85,99.75 L320.54,99.85 L321.23,99.96 L321.92,100.06 L322.61,100.16 L323.30,100.27 L323.99,100.37 L324.68,100.47 L325.37,100.58 L326.06,100.68 L326.75,100.78 L327.44,100.89 L328.13,100.99 L328.82,101.09 L329.51,101.20 L330.20,101.30 L330.89,101.40 L331.58,101.50 L332.27,101.61 L332.96,101.71 L333.65,101.81 L334.34,101.92 L335.03,102.02 L335.72,102.12 L336.41,102.22 L337.10,102.32 L337.79,102.43 L338.48,102.53 L339.17,102.63 L339.86,102.73 L340.55,102.83 L341.24,102.93 L341.93,103.03 L342.62,103.14 L343.31,103.24 L344.00,103.34 L344.69,103.44 L345.38,103.54 L346.07,103.64 L346.76,103.74 L347.45,103.84 L348.15,103.94 L348.84,104.04 L349.53,104.14 L350.22,104.24 L350.91,104.34 L351.60,104.44 L352.29,104.53 L352.98,104.63 L353.67,104.73 L354.36,104.83 L355.05,104.93 L355.74,105.03 L356.43,105.12 L357.12,105.22 L357.81,105.32 L358.50,105.42 L359.19,105.51 L359.88,105.61 L360.57,105.71 L361.26,105.80 L361.95,105.90 L362.64,105.99 L363.33,106.09 L364.02,106.19 L364.71,106.28 L365.40,106.38 L366.09,106.47 L366.78,106.57 L367.47,106.66 L368.16,106.75 L368.85,106.85 L369.54,106.94 L370.23,107.03 L370.92,107.13 L371.61,107.22 L372.30,107.31 L372.99,107.41 L373.68,107.50 L374.37,107.59 L375.06,107.68 L375.75,107.77 L376.44,107.87 L377.13,107.96 L377.82,108.05 L378.51,108.14 L379.20,108.23 L379.90,108.32 L380.59,108.41 L381.28,108.50 L381.97,108.59 L382.66,108.68 L383.35,108.76 L384.04,108.85 L384.73,108.94 L385.42,109.03 L386.11,109.12 L386.80,109.21 L387.49,109.29 L388.18,109.38 L388.87,109.47 L389.56,109.55 L390.25,109.64 L390.94,109.72 L391.63,109.81 L392.32,109.90 L393.01,109.98 L393.70,110.07 L394.39,110.15 L395.08,110.24 L395.77,110.32 L396.46,110.40 L397.15,110.49 L397.84,110.57 L398.53,110.65 L399.22,110.74 L399.91,110.82 L400.60,110.90 L401.29,110.98 L401.98,111.06 L402.67,111.15 L403.36,111.23 L404.05,111.31 L404.74,111.39 L405.43,111.47 L406.12,111.55 L406.81,111.63 L407.50,111.71 L408.19,111.79 L408.88,111.87 L409.57,111.94 L410.26,112.02 L410.95,112.10 L411.65,112.18 L412.34,112.26 L413.03,112.33 L413.72,112.41 L414.41,112.49 L415.10,112.56 L415.79,112.64 L416.48,112.71 L417.17,112.79 L417.86,112.86 L418.55,112.94 L419.24,113.01 L419.93,113.09 L420.62,113.16 L421.31,113.24 L422.00,113.31 L422.69,113.38 L423.38,113.45 L424.07,113.53 L424.76,113.60 L425.45,113.67 L426.14,113.74 L426.83,113.81 L427.52,113.89 L428.21,113.96 L428.90,114.03 L429.59,114.10 L430.28,114.17 L430.97,114.24 L431.66,114.31 L432.35,114.37 L433.04,114.44 L433.73,114.51 L434.42,114.58 L435.11,114.65 L435.80,114.72 L436.49,114.78 L437.18,114.85 L437.87,114.92 L438.56,114.98 L439.25,115.05 L439.94,115.11 L440.63,115.18 L441.32,115.24 L442.01,115.31 L442.71,115.37 L443.40,115.44 L444.09,115.50 L444.78,115.57 L445.47,115.63 L446.16,115.69 L446.85,115.75 L447.54,115.82 L448.23,115.88 L448.92,115.94 L449.61,116.00 L450.30,116.06 L450.99,116.12 L451.68,116.18 L452.37,116.24 L453.06,116.30 L453.75,116.36 L454.44,116.42 L455.13,116.48 L455.82,116.54 L456.51,116.60 L457.20,116.66 L457.89,116.71 L458.58,116.77 L459.27,116.83 L459.96,116.89 L460.65,116.94 L461.34,117.00 L462.03,117.05 L462.72,117.11 L463.41,117.16 L464.10,117.22 L464.79,117.27 L465.48,117.33 L466.17,117.38 L466.86,117.43 L467.55,117.49 L468.24,117.54 L468.93,117.59 L469.62,117.65 L470.31,117.70 L471.00,117.75 L471.69,117.80 L472.38,117.85 L473.07,117.90 L473.76,117.95 L474.46,118.00 L475.15,118.05 L475.84,118.10 L476.53,118.15 L477.22,118.20 L477.91,118.25 L478.60,118.29 L479.29,118.34 L479.98,118.39 L480.67,118.43 L481.36,118.48 L482.05,118.53 L482.74,118.57 L483.43,118.62 L484.12,118.66 L484.81,118.71 L485.50,118.75 L486.19,118.80 L486.88,118.84 L487.57,118.88 L488.26,118.93 L488.95,118.97 L489.64,119.01 L490.33,119.05 L491.02,119.10 L491.71,119.14 L492.40,119.18 L493.09,119.22 L493.78,119.26 L494.47,119.30 L495.16,119.34 L495.85,119.38 L496.54,119.42 L497.23,119.45 L497.92,119.49 L498.61,119.53 L499.30,119.57 L499.99,119.60 L500.68,119.64 L501.37,119.68 L502.06,119.71 L502.75,119.75 L503.44,119.78 L504.13,119.82 L504.82,119.85 L505.51,119.88 L506.21,119.92 L506.90,119.95 L507.59,119.98 L508.28,120.02 L508.97,120.05 L509.66,120.08 L510.35,120.11 L511.04,120.14 L511.73,120.17 L512.42,120.20 L513.11,120.23 L513.80,120.26 L514.49,120.29 L515.18,120.32 L515.87,120.34 L516.56,120.37 L517.25,120.40 L517.94,120.43 L518.63,120.45 L519.32,120.48 L520.01,120.50 L520.70,120.53 L521.39,120.55 L522.08,120.58 L522.77,120.60" fill="none" stroke="#ff0000" stroke-width="1.75"/>
<path d="M40.31,243.18 L41.00,244.77 L41.69,246.32 L42.38,247.82 L43.07,249.29 L43.76,250.71 L44.45,252.09 L45.14,253.42 L45.83,254.71 L46.52,255.95 L47.21,257.15 L47.90,258.29 L48.59,259.39 L49.28,260.44 L49.97,261.44 L50.66,262.39 L51.35,263.28 L52.04,264.13 L52.73,264.92 L53.42,265.67 L54.11,266.36 L54.80,267.00 L55.49,267.59 L56.18,268.12 L56.87,268.60 L57.56,269.03 L58.25,269.41 L58.94,269.74 L59.63,270.02 L60.32,270.24 L61.01,270.42 L61.70,270.54 L62.39,270.61 L63.08,270.64 L63.77,270.61 L64.47,270.54 L65.16,270.42 L65.85,270.25 L66.54,270.04 L67.23,269.78 L67.92,269.47 L68.61,269.12 L69.30,268.72 L69.99,268.29 L70.68,267.81 L71.37,267.28 L72.06,266.72 L72.75,266.12 L73.44,265.47 L74.13,264.79 L74.82,264.08 L75.51,263.32 L76.20,262.53 L76.89,261.71 L77.58,260.85 L78.27,259.96 L78.96,259.03 L79.65,258.08 L80.34,257.09 L81.03,256.08 L81.72,255.04 L82.41,253.97 L83.10,252.87 L83.79,251.75 L84.48,250.60 L85.17,249.43 L85.86,248.24 L86.55,247.02 L87.24,245.78 L87.93,244.53 L88.62,243.25 L89.31,241.96 L90.00,240.64 L90.69,239.31 L91.38,237.97 L92.07,236.61 L92.76,235.23 L93.45,233.85 L94.14,232.45 L94.83,231.03 L95.52,229.61 L96.22,228.18 L96.91,226.73 L97.60,225.28 L98.29,223.82 L98.98,222.35 L99.67,220.88 L100.36,219.40 L101.05,217.91 L101.74,216.42 L102.43,214.93 L103.12,213.43 L103.81,211.93 L104.50,210.43 L105.19,208.92 L105.88,207.42 L106.57,205.91 L107.26,204.41 L107.95,202.90 L108.64,201.40 L109.33,199.89 L110.02,198.39 L110.71,196.90 L111.40,195.40 L112.09,193.91 L112.78,192.42 L113.47,190.94 L114.16,189.46 L114.85,187.99 L115.54,186.52 L116.23,185.06 L116.92,183.61 L117.61,182.16 L118.30,180.72 L118.99,179.29 L119.68,177.86 L120.37,176.45 L121.06,175.04 L121.75,173.64 L122.44,172.24 L123.13,170.86 L123.82,169.49 L124.51,168.13 L125.20,166.77 L125.89,165.43 L126.58,164.09 L127.27,162.77 L127.97,161.46 L128.66,160.16 L129.35,158.87 L130.04,157.59 L130.73,156.32 L131.42,155.07 L132.11,153.82 L132.80,152.59 L133.49,151.37 L134.18,150.16 L134.87,148.96 L135.56,147.78 L136.25,146.60 L136.94,145.44 L137.63,144.30 L138.32,143.16 L139.01,142.04 L139.70,140.93 L140.39,139.83 L141.08,138.75 L141.77,137.68 L142.46,136.62 L143.15,135.57 L143.84,134.54 L144.53,133.52 L145.22,132.51 L145.91,131.52 L146.60,130.54 L147.29,129.57 L147.98,128.62 L148.67,127.67 L149.36,126.74 L150.05,125.83 L150.74,124.92 L151.43,124.03 L152.12,123.15 L152.81,122.29 L153.50,121.44 L154.19,120.60 L154.88,119.77 L155.57,118.95 L156.26,118.15 L156.95,117.36 L157.64,116.58 L158.33,115.82 L159.03,115.06 L159.72,114.32 L160.41,113.59 L161.10,112.88 L161.79,112.17 L162.48,111.48 L163.17,110.80 L163.86,110.13 L164.55,109.47 L165.24,108.83 L165.93,108.19 L166.62,107.57 L167.31,106.96 L168.00,106.36 L168.69,105.77 L169.38,105.19 L170.07,104.62 L170.76,104.07 L171.45,103.52 L172.14,102.98 L172.83,102.46 L173.52,101.95 L174.21,101.44 L174.90,100.95 L175.59,100.47 L176.28,99.99 L176.97,99.53 L177.66,99.07 L178.35,98.63 L179.04,98.20 L179.73,97.77 L180.42,97.36 L181.11,96.95 L181.80,96.55 L182.49,96.17 L183.18,95.79 L183.87,95.42 L184.56,95.06 L185.25,94.71 L185.94,94.36 L186.63,94.03 L187.32,93.70 L188.01,93.38 L188.70,93.07 L189.39,92.77 L190.08,92.48 L190.78,92.19 L191.47,91.91 L192.16,91.64 L192.85,91.38 L193.54,91.12 L194.23,90.87 L194.92,90.63 L195.61,90.39 L196.30,90.17 L196.99,89.95 L197.68,89.73 L198.37,89.53 L199.06,89.33 L199.75,89.13 L200.44,88.94 L201.13,88.76 L201.82,88.59 L202.51,88.42 L203.20,88.26 L203.89,88.10 L204.58,87.95 L205.27,87.80 L205.96,87.66 L206.65,87.53 L207.34,87.40 L208.03,87.28 L208.72,87.16 L209.41,87.04 L210.10,86.94 L210.79,86.83 L211.48,86.74 L212.17,86.64 L212.86,86.55 L213.55,86.47 L214.24,86.39 L214.93,86.32 L215.62,86.25 L216.31,86.18 L217.00,86.12 L217.69,86.06 L218.38,86.01 L219.07,85.96 L219.76,85.91 L220.45,85.87 L221.14,85.84 L221.83,85.80 L222.53,85.77 L223.22,85.75 L223.91,85.72 L224.60,85.70 L225.29,85.69 L225.98,85.67 L226.67,85.66 L227.36,85.66 L228.05,85.66 L228.74,85.66 L229.43,85.66 L230.12,85.66 L230.81,85.67 L231.50,85.68 L232.19,85.70 L232.88,85.71 L233.57,85.73 L234.26,85.76 L234.95,85.78 L235.64,85.81 L236.33,85.84 L237.02,85.87 L237.71,85.90 L238.40,85.94 L239.09,85.98 L239.78,86.02 L240.47,86.06 L241.16,86.11 L241.85,86.15 L242.54,86.20 L243.23,86.25 L243.92,86.31 L244.61,86.36 L245.30,86.42 L245.99,86.48 L246.68,86.54 L247.37,86.60 L248.06,86.66 L248.75,86.72 L249.44,86.79 L250.13,86.86 L250.82,86.93 L251.51,87.00 L252.20,87.07 L252.89,87.14 L253.59,87.22 L254.28,87.29 L254.97,87.37 L255.66,87.45 L256.35,87.53 L257.04,87.61 L257.73,87.69 L258.42,87.77 L259.11,87.86 L259.80,87.94 L260.49,88.03 L261.18,88.12 L261.87,88.20 L262.56,88.29 L263.25,88.38 L263.94,88.47 L264.63,88.56 L265.32,88.66 L266.01,88.75 L266.70,88.84 L267.39,88.94 L268.08,89.03 L268.77,89.13 L269.46,89.23 L270.15,89.32 L270.84,89.42 L271.53,89.52 L272.22,89.62 L272.91,89.72 L273.60,89.82 L274.29,89.92 L274.98,90.02 L275.67,90.12 L276.36,90.23 L277.05,90.33 L277.74,90.43 L278.43,90.54 L279.12,90.64 L279.81,90.75 L280.50,90.85 L281.19,90.96 L281.88,91.06 L282.57,91.17 L283.26,91.28 L283.95,91.39 L284.64,91.49 L285.34,91.60 L286.03,91.71 L286.72,91.82 L287.41,91.93 L288.10,92.04 L288.79,92.15 L289.48,92.25 L290.17,92.36 L290.86,92.47 L291.55,92.59 L292.24,92.70 L292.93,92.81 L293.62,92.92 L294.31,93.03 L295.00,93.14 L295.69,93.25 L296.38,93.36 L297.07,93.48 L297.76,93.59 L298.45,93.70 L299.14,93.81 L299.83,93.93 L300.52,94.04 L301.21,94.15 L301.90,94.27 L302.59,94.38 L303.28,94.49 L303.97,94.61 L304.66,94.72 L305.35,94.83 L306.04,94.95 L306.73,95.06 L307.42,95.18 L308.11,95.29 L308.80,95.40 L309.49,95.52 L310.18,95.63 L310.87,95.75 L311.56,95.86 L312.25,95.98 L312.94,96.09 L313.63,96.21 L314.32,96.32 L315.01,96.44 L315.70,96.55 L316.39,96.67 L317.09,96.78 L317.78,96.90 L318.47,97.01 L319.16,97.13 L319.85,97.24 L320.54,97.36 L321.23,97.47 L321.92,97.59 L322.61,97.71 L323.30,97.82 L323.99,97.94 L324.68,98.05 L325.37,98.17 L326.06,98.28 L326.75,98.40 L327.44,98.52 L328.13,98.63 L328.82,98.75 L329.51,98.86 L330.20,98.98 L330.89,99.10 L331.58,99.21 L332.27,99.33 L332.96,99.44 L333.65,99.56 L334.34,99.67 L335.03,99.79 L335.72,99.91 L336.41,100.02 L337.10,100.14 L337.79,100.25 L338.48,100.37 L339.17,100.49 L339.86,100.60 L340.55,100.72 L341.24,100.83 L341.93,100.95 L342.62,101.07 L343.31,101.18 L344.00,101.30 L344.69,101.41 L345.38,101.53 L346.07,101.64 L346.76,101.76 L347.45,101.87 L348.15,101.99 L348.84,102.11 L349.53,102.22 L350.22,102.34 L350.91,102.45 L351.60,102.57 L352.29,102.68 L352.98,102.80 L353.67,102.91 L354.36,103.03 L355.05,103.14 L355.74,103.26 L356.43,103.37 L357.12,103.49 L357.81,103.60 L358.50,103.71 L359.19,103.83 L359.88,103.94 L360.57,104.06 L361.26,104.17 L361.95,104.28 L362.64,104.40 L363.33,104.51 L364.02,104.63 L364.71,104.74 L365.40,104.85 L366.09,104.96 L366.78,105.08 L367.47,105.19 L368.16,105.30 L368.85,105.42 L369.54,105.53 L370.23,105.64 L370.92,105.75 L371.61,105.86 L372.30,105.98 L372.99,106.09 L373.68,106.20 L374.37,106.31 L375.06,106.42 L375.75,106.53 L376.44,106.64 L377.13,106.75 L377.82,106.86 L378.51,106.97 L379.20,107.08 L379.90,107.19 L380.59,107.30 L381.28,107.41 L381.97,107.52 L382.66,107.62 L383.35,107.73 L384.04,107.84 L384.73,107.95 L385.42,108.06 L386.11,108.16 L386.80,108.27 L387.49,108.38 L388.18,108.48 L388.87,108.59 L389.56,108.69 L390.25,108.80 L390.94,108.90 L391.63,109.01 L392.32,109.11 L393.01,109.22 L393.70,109.32 L394.39,109.42 L395.08,109.52 L395.77,109.63 L396.46,109.73 L397.15,109.83 L397.84,109.93 L398.53,110.03 L399.22,110.13 L399.91,110.23 L400.60,110.33 L401.29,110.43 L401.98,110.53 L402.67,110.63 L403.36,110.73 L404.05,110.83 L404.74,110.92 L405.43,111.02 L406.12,111.12 L406.81,111.21 L407.50,111.31 L408.19,111.41 L408.88,111.50 L409.57,111.59 L410.26,111.69 L410.95,111.78 L411.65,111.87 L412.34,111.97 L413.03,112.06 L413.72,112.15 L414.41,112.24 L415.10,112.33 L415.79,112.42 L416.48,112.51 L417.17,112.60 L417.86,112.69 L418.55,112.78 L419.24,112.87 L419.93,112.95 L420.62,113.04 L421.31,113.12 L422.00,113.21 L422.69,113.30 L423.38,113.38 L424.07,113.46 L424.76,113.55 L425.45,113.63 L426.14,113.71 L426.83,113.79 L427.52,113.88 L428.21,113.96 L428.90,114.04 L429.59,114.12 L430.28,114.19 L430.97,114.27 L431.66,114.35 L432.35,114.43 L433.04,114.51 L433.73,114.58 L434.42,114.66 L435.11,114.73 L435.80,114.81 L436.49,114.88 L437.18,114.95 L437.87,115.03 L438.56,115.10 L439.25,115.17 L439.94,115.24 L440.63,115.31 L441.32,115.38 L442.01,115.45 L442.71,115.52 L443.40,115.59 L444.09,115.66 L444.78,115.73 L445.47,115.79 L446.16,115.86 L446.85,115.92 L447.54,115.99 L448.23,116.05 L448.92,116.12 L449.61,116.18 L450.30,116.24 L450.99,116.30 L451.68,116.37 L452.37,116.43 L453.06,116.49 L453.75,116.55 L454.44,116.61 L455.13,116.67 L455.82,116.72 L456.51,116.78 L457.20,116.84 L457.89,116.90 L458.58,116.95 L459.27,117.01 L459.96,117.06 L460.65,117.12 L461.34,117.17 L462.03,117.22 L462.72,117.28 L463.41,117.33 L464.10,117.38 L464.79,117.43 L465.48,117.48 L466.17,117.53 L466.86,117.58 L467.55,117.63 L468.24,117.68 L468.93,117.73 L469.62,117.78 L470.31,117.83 L471.00,117.87 L471.69,117.92 L472.38,117.96 L473.07,118.01 L473.76,118.06 L474.46,118.10 L475.15,118.14 L475.84,118.19 L476.53,118.23 L477.22,118.27 L477.91,118.32 L478.60,118.36 L479.29,118.40 L479.98,118.44 L480.67,118.48 L481.36,118.52 L482.05,118.56 L482.74,118.60 L483.43,118.64 L484.12,118.68 L484.81,118.72 L485.50,118.76 L486.19,118.80 L486.88,118.84 L487.57,118.87 L488.26,118.91 L488.95,118.95 L489.64,118.98 L490.33,119.02 L491.02,119.06 L491.71,119.09 L492.40,119.13 L493.09,119.16 L493.78,119.20 L494.47,119.23 L495.16,119.27 L495.85,119.30 L496.54,119.34 L497.23,119.37 L497.92,119.41 L498.61,119.44 L499.30,119.47 L499.99,119.51 L500.68,119.54 L501.37,119.57 L502.06,119.61 L502.75,119.64 L503.44,119.67 L504.13,119.71 L504.82,119.74 L505.51,119.77 L506.21,119.81 L506.90,119.84 L507.59,119.88 L508.28,119.91 L508.97,119.94 L509.66,119.98 L510.35,120.01 L511.04,120.04 L511.73,120.08 L512.42,120.11 L513.11,120.15 L513.80,120.18 L514.49,120.22 L515.18,120.25 L515.87,120.29 L516.56,120.32 L517.25,120.36 L517.94,120.39 L518.63,120.43 L519.32,120.47 L520.01,120.51 L520.70,120.54 L521.39,120.58 L522.08,120.62 L522.77,120.66" fill="none" stroke="#808080" stroke-width="1.75"/>
<path d="M40.31,240.20 L41.00,242.07 L41.69,243.92 L42.38,245.74 L43.07,247.53 L43.76,249.30 L44.45,251.03 L45.14,252.74 L45.83,254.41 L46.52,256.05 L47.21,257.66 L47.90,259.23 L48.59,260.76 L49.28,262.25 L49.97,263.70 L50.66,265.10 L51.35,266.47 L52.04,267.79 L52.73,269.07 L53.42,270.30 L54.11,271.48 L54.80,272.62 L55.49,273.71 L56.18,274.74 L56.87,275.73 L57.56,276.67 L58.25,277.55 L58.94,278.39 L59.63,279.17 L60.32,279.90 L61.01,280.57 L61.70,281.19 L62.39,281.76 L63.08,282.27 L63.77,282.73 L64.47,283.13 L65.16,283.48 L65.85,283.78 L66.54,284.02 L67.23,284.20 L67.92,284.33 L68.61,284.41 L69.30,284.43 L69.99,284.40 L70.68,284.32 L71.37,284.18 L72.06,283.99 L72.75,283.75 L73.44,283.45 L74.13,283.11 L74.82,282.71 L75.51,282.26 L76.20,281.77 L76.89,281.22 L77.58,280.63 L78.27,279.99 L78.96,279.31 L79.65,278.58 L80.34,277.80 L81.03,276.98 L81.72,276.11 L82.41,275.21 L83.10,274.26 L83.79,273.27 L84.48,272.24 L85.17,271.18 L85.86,270.07 L86.55,268.93 L87.24,267.76 L87.93,266.55 L88.62,265.30 L89.31,264.02 L90.00,262.72 L90.69,261.38 L91.38,260.01 L92.07,258.61 L92.76,257.18 L93.45,255.73 L94.14,254.26 L94.83,252.76 L95.52,251.23 L96.22,249.69 L96.91,248.12 L97.60,246.53 L98.29,244.92 L98.98,243.30 L99.67,241.66 L100.36,240.00 L101.05,238.32 L101.74,236.64 L102.43,234.94 L103.12,233.22 L103.81,231.50 L104.50,229.76 L105.19,228.02 L105.88,226.27 L106.57,224.51 L107.26,222.74 L107.95,220.97 L108.64,219.19 L109.33,217.41 L110.02,215.62 L110.71,213.83 L111.40,212.04 L112.09,210.25 L112.78,208.46 L113.47,206.67 L114.16,204.88 L114.85,203.09 L115.54,201.31 L116.23,199.52 L116.92,197.75 L117.61,195.97 L118.30,194.20 L118.99,192.44 L119.68,190.68 L120.37,188.93 L121.06,187.19 L121.75,185.46 L122.44,183.73 L123.13,182.01 L123.82,180.30 L124.51,178.60 L125.20,176.92 L125.89,175.24 L126.58,173.57 L127.27,171.92 L127.97,170.27 L128.66,168.64 L129.35,167.02 L130.04,165.42 L130.73,163.82 L131.42,162.24 L132.11,160.68 L132.80,159.13 L133.49,157.59 L134.18,156.07 L134.87,154.56 L135.56,153.06 L136.25,151.59 L136.94,150.12 L137.63,148.68 L138.32,147.24 L139.01,145.83 L139.70,144.43 L140.39,143.04 L141.08,141.68 L141.77,140.32 L142.46,138.99 L143.15,137.67 L143.84,136.37 L144.53,135.08 L145.22,133.81 L145.91,132.56 L146.60,131.33 L147.29,130.11 L147.98,128.90 L148.67,127.72 L149.36,126.55 L150.05,125.40 L150.74,124.26 L151.43,123.14 L152.12,122.04 L152.81,120.96 L153.50,119.89 L154.19,118.84 L154.88,117.80 L155.57,116.78 L156.26,115.78 L156.95,114.79 L157.64,113.82 L158.33,112.87 L159.03,111.93 L159.72,111.01 L160.41,110.10 L161.10,109.21 L161.79,108.34 L162.48,107.48 L163.17,106.64 L163.86,105.81 L164.55,105.00 L165.24,104.20 L165.93,103.42 L166.62,102.65 L167.31,101.90 L168.00,101.16 L168.69,100.43 L169.38,99.72 L170.07,99.03 L170.76,98.35 L171.45,97.68 L172.14,97.03 L172.83,96.39 L173.52,95.76 L174.21,95.15 L174.90,94.55 L175.59,93.97 L176.28,93.39 L176.97,92.83 L177.66,92.28 L178.35,91.75 L179.04,91.23 L179.73,90.72 L180.42,90.22 L181.11,89.73 L181.80,89.26 L182.49,88.79 L183.18,88.34 L183.87,87.90 L184.56,87.47 L185.25,87.05 L185.94,86.65 L186.63,86.25 L187.32,85.86 L188.01,85.49 L188.70,85.12 L189.39,84.77 L190.08,84.43 L190.78,84.09 L191.47,83.77 L192.16,83.45 L192.85,83.14 L193.54,82.85 L194.23,82.56 L194.92,82.28 L195.61,82.01 L196.30,81.75 L196.99,81.50 L197.68,81.25 L198.37,81.02 L199.06,80.79 L199.75,80.57 L200.44,80.36 L201.13,80.16 L201.82,79.96 L202.51,79.78 L203.20,79.60 L203.89,79.42 L204.58,79.26 L205.27,79.10 L205.96,78.95 L206.65,78.80 L207.34,78.66 L208.03,78.53 L208.72,78.41 L209.41,78.29 L210.10,78.18 L210.79,78.07 L211.48,77.97 L212.17,77.88 L212.86,77.79 L213.55,77.71 L214.24,77.63 L214.93,77.56 L215.62,77.49 L216.31,77.43 L217.00,77.38 L217.69,77.33 L218.38,77.28 L219.07,77.24 L219.76,77.21 L220.45,77.18 L221.14,77.15 L221.83,77.13 L222.53,77.11 L223.22,77.10 L223.91,77.09 L224.60,77.09 L225.29,77.09 L225.98,77.09 L226.67,77.10 L227.36,77.12 L228.05,77.13 L228.74,77.15 L229.43,77.18 L230.12,77.20 L230.81,77.24 L231.50,77.27 L232.19,77.31 L232.88,77.35 L233.57,77.39 L234.26,77.44 L234.95,77.49 L235.64,77.55 L236.33,77.60 L237.02,77.66 L237.71,77.73 L238.40,77.79 L239.09,77.86 L239.78,77.93 L240.47,78.00 L241.16,78.08 L241.85,78.16 L242.54,78.24 L243.23,78.32 L243.92,78.41 L244.61,78.50 L245.30,78.59 L245.99,78.68 L246.68,78.78 L247.37,78.87 L248.06,78.97 L248.75,79.07 L249.44,79.18 L250.13,79.28 L250.82,79.39 L251.51,79.49 L252.20,79.60 L252.89,79.72 L253.59,79.83 L254.28,79.94 L254.97,80.06 L255.66,80.18 L256.35,80.30 L257.04,80.42 L257.73,80.54 L258.42,80.67 L259.11,80.79 L259.80,80.92 L260.49,81.05 L261.18,81.18 L261.87,81.31 L262.56,81.44 L263.25,81.57 L263.94,81.70 L264.63,81.84 L265.32,81.97 L266.01,82.11 L266.70,82.25 L267.39,82.39 L268.08,82.53 L268.77,82.67 L269.46,82.81 L270.15,82.95 L270.84,83.10 L271.53,83.24 L272.22,83.38 L272.91,83.53 L273.60,83.68 L274.29,83.82 L274.98,83.97 L275.67,84.12 L276.36,84.27 L277.05,84.42 L277.74,84.57 L278.43,84.72 L279.12,84.87 L279.81,85.02 L280.50,85.17 L281.19,85.32 L281.88,85.48 L282.57,85.63 L283.26,85.78 L283.95,85.94 L284.64,86.09 L285.34,86.25 L286.03,86.40 L286.72,86.56 L287.41,86.71 L288.10,86.87 L288.79,87.02 L289.48,87.18 L290.17,87.34 L290.86,87.49 L291.55,87.65 L292.24,87.81 L292.93,87.96 L293.62,88.12 L294.31,88.28 L295.00,88.44 L295.69,88.59 L296.38,88.75 L297.07,88.91 L297.76,89.07 L298.45,89.22 L299.14,89.38 L299.83,89.54 L300.52,89.70 L301.21,89.86 L301.90,90.01 L302.59,90.17 L303.28,90.33 L303.97,90.49 L304.66,90.65 L305.35,90.80 L306.04,90.96 L306.73,91.12 L307.42,91.28 L308.11,91.43 L308.80,91.59 L309.49,91.75 L310.18,91.91 L310.87,92.06 L311.56,92.22 L312.25,92.37 L312.94,92.53 L313.63,92.69 L314.32,92.84 L315.01,93.00 L315.70,93.15 L316.39,93.31 L317.09,93.46 L317.78,93.62 L318.47,93.77 L319.16,93.93 L319.85,94.08 L320.54,94.24 L321.23,94.39 L321.92,94.54 L322.61,94.70 L323.30,94.85 L323.99,95.00 L324.68,95.15 L325.37,95.31 L326.06,95.46 L326.75,95.61 L327.44,95.76 L328.13,95.91 L328.82,96.06 L329.51,96.21 L330.20,96.36 L330.89,96.51 L331.58,96.66 L332.27,96.81 L332.96,96.95 L333.65,97.10 L334.34,97.25 L335.03,97.40 L335.72,97.54 L336.41,97.69 L337.10,97.83 L337.79,97.98 L338.48,98.12 L339.17,98.27 L339.86,98.41 L340.55,98.56 L341.24,98.70 L341.93,98.84 L342.62,98.99 L343.31,99.13 L344.00,99.27 L344.69,99.41 L345.38,99.55 L346.07,99.69 L346.76,99.83 L347.45,99.97 L348.15,100.11 L348.84,100.25 L349.53,100.39 L350.22,100.53 L350.91,100.66 L351.60,100.80 L352.29,100.94 L352.98,101.07 L353.67,101.21 L354.36,101.34 L355.05,101.48 L355.74,101.61 L356.43,101.75 L357.12,101.88 L357.81,102.01 L358.50,102.14 L359.19,102.28 L359.88,102.41 L360.57,102.54 L361.26,102.67 L361.95,102.80 L362.64,102.93 L363.33,103.06 L364.02,103.19 L364.71,103.31 L365.40,103.44 L366.09,103.57 L366.78,103.69 L367.47,103.82 L368.16,103.95 L368.85,104.07 L369.54,104.20 L370.23,104.32 L370.92,104.44 L371.61,104.57 L372.30,104.69 L372.99,104.81 L373.68,104.93 L374.37,105.05 L375.06,105.17 L375.75,105.29 L376.44,105.41 L377.13,105.53 L377.82,105.65 L378.51,105.77 L379.20,105.89 L379.90,106.00 L380.59,106.12 L381.28,106.24 L381.97,106.35 L382.66,106.47 L383.35,106.58 L384.04,106.69 L384.73,106.81 L385.42,106.92 L386.11,107.03 L386.80,107.14 L387.49,107.26 L388.18,107.37 L388.87,107.48 L389.56,107.59 L390.25,107.70 L390.94,107.81 L391.63,107.91 L392.32,108.02 L393.01,108.13 L393.70,108.24 L394.39,108.34 L395.08,108.45 L395.77,108.55 L396.46,108.66 L397.15,108.76 L397.84,108.87 L398.53,108.97 L399.22,109.07 L399.91,109.18 L400.60,109.28 L401.29,109.38 L401.98,109.48 L402.67,109.58 L403.36,109.68 L404.05,109.78 L404.74,109.88 L405.43,109.98 L406.12,110.08 L406.81,110.17 L407.50,110.27 L408.19,110.37 L408.88,110.46 L409.57,110.56 L410.26,110.65 L410.95,110.75 L411.65,110.84 L412.34,110.93 L413.03,111.03 L413.72,111.12 L414.41,111.21 L415.10,111.30 L415.79,111.40 L416.48,111.49 L417.17,111.58 L417.86,111.67 L418.55,111.76 L419.24,111.84 L419.93,111.93 L420.62,112.02 L421.31,112.11 L422.00,112.20 L422.69,112.28 L423.38,112.37 L424.07,112.45 L424.76,112.54 L425.45,112.62 L426.14,112.71 L426.83,112.79 L427.52,112.87 L428.21,112.96 L428.90,113.04 L429.59,113.12 L430.28,113.20 L430.97,113.28 L431.66,113.36 L432.35,113.44 L433.04,113.52 L433.73,113.60 L434.42,113.68 L435.11,113.76 L435.80,113.84 L436.49,113.92 L437.18,113.99 L437.87,114.07 L438.56,114.15 L439.25,114.22 L439.94,114.30 L440.63,114.37 L441.32,114.45 L442.01,114.52 L442.71,114.59 L443.40,114.67 L444.09,114.74 L444.78,114.81 L445.47,114.89 L446.16,114.96 L446.85,115.03 L447.54,115.10 L448.23,115.17 L448.92,115.24 L449.61,115.31 L450.30,115.38 L450.99,115.45 L451.68,115.51 L452.37,115.58 L453.06,115.65 L453.75,115.72 L454.44,115.78 L455.13,115.85 L455.82,115.92 L456.51,115.98 L457.20,116.05 L457.89,116.11 L458.58,116.18 L459.27,116.24 L459.96,116.30 L460.65,116.37 L461.34,116.43 L462.03,116.49 L462.72,116.56 L463.41,116.62 L464.10,116.68 L464.79,116.74 L465.48,116.80 L466.17,116.86 L466.86,116.92 L467.55,116.98 L468.24,117.04 L468.93,117.10 L469.62,117.16 L470.31,117.21 L471.00,117.27 L471.69,117.33 L472.38,117.39 L473.07,117.44 L473.76,117.50 L474.46,117.56 L475.15,117.61 L475.84,117.67 L476.53,117.72 L477.22,117.78 L477.91,117.83 L478.60,117.89 L479.29,117.94 L479.98,117.99 L480.67,118.05 L481.36,118.10 L482.05,118.15 L482.74,118.20 L483.43,118.25 L484.12,118.31 L484.81,118.36 L485.50,118.41 L486.19,118.46 L486.88,118.51 L487.57,118.56 L488.26,118.61 L488.95,118.66 L489.64,118.71 L490.33,118.75 L491.02,118.80 L491.71,118.85 L492.40,118.90 L493.09,118.95 L493.78,118.99 L494.47,119.04 L495.16,119.09 L495.85,119.13 L496.54,119.18 L497.23,119.22 L497.92,119.27 L498.61,119.31 L499.30,119.36 L499.99,119.40 L500.68,119.45 L501.37,119.49 L502.06,119.53 L502.75,119.58 L503.44,119.62 L504.13,119.66 L504.82,119.71 L505.51,119.75 L506.21,119.79 L506.90,119.83 L507.59,119.87 L508.28,119.91 L508.97,119.96 L509.66,120.00 L510.35,120.04 L511.04,120.08 L511.73,120.12 L512.42,120.16 L513.11,120.20 L513.80,120.23 L514.49,120.27 L515.18,120.31 L515.87,120.35 L516.56,120.39 L517.25,120.43 L517.94,120.46 L518.63,120.50 L519.32,120.54 L520.01,120.57 L520.70,120.61 L521.39,120.65 L522.08,120.68 L522.77,120.72" fill="none" stroke="#000000" stroke-width="1.75" stroke-dasharray="10.45 10.43" stroke-dashoffset="1.7"/>
<path d="M40.31,230.30 L41.00,233.13 L41.69,235.95 L42.38,238.77 L43.07,241.58 L43.76,244.37 L44.45,247.14 L45.14,249.90 L45.83,252.63 L46.52,255.34 L47.21,258.02 L47.90,260.68 L48.59,263.30 L49.28,265.88 L49.97,268.43 L50.66,270.94 L51.35,273.40 L52.04,275.83 L52.73,278.21 L53.42,280.54 L54.11,282.82 L54.80,285.05 L55.49,287.22 L56.18,289.34 L56.87,291.41 L57.56,293.41 L58.25,295.36 L58.94,297.24 L59.63,299.06 L60.32,300.82 L61.01,302.52 L61.70,304.15 L62.39,305.71 L63.08,307.20 L63.77,308.63 L64.47,309.98 L65.16,311.27 L65.85,312.48 L66.54,313.62 L67.23,314.69 L67.92,315.69 L68.61,316.61 L69.30,317.46 L69.99,318.24 L70.68,318.94 L71.37,319.57 L72.06,320.13 L72.75,320.61 L73.44,321.02 L74.13,321.36 L74.82,321.62 L75.51,321.80 L76.20,321.92 L76.89,321.96 L77.58,321.93 L78.27,321.83 L78.96,321.65 L79.65,321.41 L80.34,321.09 L81.03,320.71 L81.72,320.26 L82.41,319.73 L83.10,319.15 L83.79,318.49 L84.48,317.77 L85.17,316.98 L85.86,316.13 L86.55,315.22 L87.24,314.24 L87.93,313.21 L88.62,312.11 L89.31,310.96 L90.00,309.75 L90.69,308.48 L91.38,307.15 L92.07,305.77 L92.76,304.34 L93.45,302.86 L94.14,301.32 L94.83,299.74 L95.52,298.11 L96.22,296.43 L96.91,294.71 L97.60,292.94 L98.29,291.13 L98.98,289.28 L99.67,287.38 L100.36,285.45 L101.05,283.49 L101.74,281.48 L102.43,279.44 L103.12,277.37 L103.81,275.27 L104.50,273.14 L105.19,270.97 L105.88,268.78 L106.57,266.57 L107.26,264.33 L107.95,262.06 L108.64,259.77 L109.33,257.47 L110.02,255.14 L110.71,252.80 L111.40,250.43 L112.09,248.06 L112.78,245.67 L113.47,243.26 L114.16,240.85 L114.85,238.42 L115.54,235.99 L116.23,233.54 L116.92,231.09 L117.61,228.64 L118.30,226.18 L118.99,223.72 L119.68,221.25 L120.37,218.79 L121.06,216.33 L121.75,213.86 L122.44,211.40 L123.13,208.95 L123.82,206.49 L124.51,204.05 L125.20,201.61 L125.89,199.17 L126.58,196.75 L127.27,194.33 L127.97,191.93 L128.66,189.53 L129.35,187.15 L130.04,184.78 L130.73,182.42 L131.42,180.08 L132.11,177.76 L132.80,175.44 L133.49,173.15 L134.18,170.87 L134.87,168.61 L135.56,166.37 L136.25,164.14 L136.94,161.94 L137.63,159.75 L138.32,157.59 L139.01,155.44 L139.70,153.32 L140.39,151.22 L141.08,149.14 L141.77,147.08 L142.46,145.05 L143.15,143.04 L143.84,141.06 L144.53,139.09 L145.22,137.15 L145.91,135.24 L146.60,133.35 L147.29,131.49 L147.98,129.65 L148.67,127.83 L149.36,126.05 L150.05,124.28 L150.74,122.55 L151.43,120.84 L152.12,119.15 L152.81,117.49 L153.50,115.86 L154.19,114.25 L154.88,112.67 L155.57,111.12 L156.26,109.59 L156.95,108.08 L157.64,106.61 L158.33,105.16 L159.03,103.73 L159.72,102.34 L160.41,100.96 L161.10,99.62 L161.79,98.30 L162.48,97.00 L163.17,95.73 L163.86,94.49 L164.55,93.27 L165.24,92.07 L165.93,90.90 L166.62,89.76 L167.31,88.64 L168.00,87.54 L168.69,86.47 L169.38,85.42 L170.07,84.40 L170.76,83.40 L171.45,82.42 L172.14,81.47 L172.83,80.53 L173.52,79.63 L174.21,78.74 L174.90,77.87 L175.59,77.03 L176.28,76.21 L176.97,75.41 L177.66,74.63 L178.35,73.87 L179.04,73.14 L179.73,72.42 L180.42,71.72 L181.11,71.05 L181.80,70.39 L182.49,69.75 L183.18,69.13 L183.87,68.53 L184.56,67.95 L185.25,67.38 L185.94,66.84 L186.63,66.31 L187.32,65.80 L188.01,65.30 L188.70,64.83 L189.39,64.37 L190.08,63.92 L190.78,63.49 L191.47,63.08 L192.16,62.68 L192.85,62.30 L193.54,61.94 L194.23,61.58 L194.92,61.25 L195.61,60.92 L196.30,60.61 L196.99,60.32 L197.68,60.04 L198.37,59.77 L199.06,59.51 L199.75,59.27 L200.44,59.04 L201.13,58.82 L201.82,58.61 L202.51,58.41 L203.20,58.23 L203.89,58.06 L204.58,57.90 L205.27,57.75 L205.96,57.61 L206.65,57.48 L207.34,57.36 L208.03,57.25 L208.72,57.15 L209.41,57.06 L210.10,56.98 L210.79,56.91 L211.48,56.85 L212.17,56.80 L212.86,56.75 L213.55,56.72 L214.24,56.69 L214.93,56.67 L215.62,56.66 L216.31,56.65 L217.00,56.65 L217.69,56.67 L218.38,56.68 L219.07,56.71 L219.76,56.74 L220.45,56.78 L221.14,56.82 L221.83,56.88 L222.53,56.93 L223.22,57.00 L223.91,57.07 L224.60,57.14 L225.29,57.23 L225.98,57.31 L226.67,57.40 L227.36,57.50 L228.05,57.61 L228.74,57.71 L229.43,57.83 L230.12,57.94 L230.81,58.07 L231.50,58.19 L232.19,58.32 L232.88,58.46 L233.57,58.60 L234.26,58.74 L234.95,58.89 L235.64,59.04 L236.33,59.20 L237.02,59.36 L237.71,59.52 L238.40,59.69 L239.09,59.86 L239.78,60.03 L240.47,60.21 L241.16,60.39 L241.85,60.57 L242.54,60.75 L243.23,60.94 L243.92,61.13 L244.61,61.33 L245.30,61.52 L245.99,61.72 L246.68,61.92 L247.37,62.13 L248.06,62.33 L248.75,62.54 L249.44,62.75 L250.13,62.96 L250.82,63.18 L251.51,63.39 L252.20,63.61 L252.89,63.83 L253.59,64.05 L254.28,64.28 L254.97,64.50 L255.66,64.73 L256.35,64.96 L257.04,65.19 L257.73,65.42 L258.42,65.65 L259.11,65.89 L259.80,66.12 L260.49,66.36 L261.18,66.60 L261.87,66.83 L262.56,67.07 L263.25,67.31 L263.94,67.56 L264.63,67.80 L265.32,68.04 L266.01,68.29 L266.70,68.53 L267.39,68.78 L268.08,69.03 L268.77,69.27 L269.46,69.52 L270.15,69.77 L270.84,70.02 L271.53,70.27 L272.22,70.52 L272.91,70.77 L273.60,71.02 L274.29,71.27 L274.98,71.52 L275.67,71.78 L276.36,72.03 L277.05,72.28 L277.74,72.53 L278.43,72.79 L279.12,73.04 L279.81,73.29 L280.50,73.55 L281.19,73.80 L281.88,74.05 L282.57,74.31 L283.26,74.56 L283.95,74.81 L284.64,75.07 L285.34,75.32 L286.03,75.57 L286.72,75.83 L287.41,76.08 L288.10,76.33 L288.79,76.58 L289.48,76.83 L290.17,77.09 L290.86,77.34 L291.55,77.59 L292.24,77.84 L292.93,78.09 L293.62,78.34 L294.31,78.59 L295.00,78.84 L295.69,79.09 L296.38,79.33 L297.07,79.58 L297.76,79.83 L298.45,80.07 L299.14,80.32 L299.83,80.57 L300.52,80.81 L301.21,81.05 L301.90,81.30 L302.59,81.54 L303.28,81.78 L303.97,82.03 L304.66,82.27 L305.35,82.51 L306.04,82.75 L306.73,82.99 L307.42,83.22 L308.11,83.46 L308.80,83.70 L309.49,83.93 L310.18,84.17 L310.87,84.40 L311.56,84.64 L312.25,84.87 L312.94,85.10 L313.63,85.33 L314.32,85.56 L315.01,85.79 L315.70,86.02 L316.39,86.25 L317.09,86.47 L317.78,86.70 L318.47,86.93 L319.16,87.15 L319.85,87.37 L320.54,87.59 L321.23,87.82 L321.92,88.04 L322.61,88.26 L323.30,88.47 L323.99,88.69 L324.68,88.91 L325.37,89.12 L326.06,89.34 L326.75,89.55 L327.44,89.76 L328.13,89.98 L328.82,90.19 L329.51,90.40 L330.20,90.61 L330.89,90.81 L331.58,91.02 L332.27,91.23 L332.96,91.43 L333.65,91.63 L334.34,91.84 L335.03,92.04 L335.72,92.24 L336.41,92.44 L337.10,92.64 L337.79,92.84 L338.48,93.03 L339.17,93.23 L339.86,93.42 L340.55,93.62 L341.24,93.81 L341.93,94.00 L342.62,94.19 L343.31,94.38 L344.00,94.57 L344.69,94.76 L345.38,94.95 L346.07,95.13 L346.76,95.32 L347.45,95.50 L348.15,95.68 L348.84,95.86 L349.53,96.05 L350.22,96.23 L350.91,96.40 L351.60,96.58 L352.29,96.76 L352.98,96.94 L353.67,97.11 L354.36,97.28 L355.05,97.46 L355.74,97.63 L356.43,97.80 L357.12,97.97 L357.81,98.14 L358.50,98.31 L359.19,98.48 L359.88,98.64 L360.57,98.81 L361.26,98.97 L361.95,99.14 L362.64,99.30 L363.33,99.46 L364.02,99.62 L364.71,99.78 L365.40,99.94 L366.09,100.10 L366.78,100.26 L367.47,100.42 L368.16,100.57 L368.85,100.73 L369.54,100.88 L370.23,101.04 L370.92,101.19 L371.61,101.34 L372.30,101.49 L372.99,101.64 L373.68,101.79 L374.37,101.94 L375.06,102.09 L375.75,102.24 L376.44,102.38 L377.13,102.53 L377.82,102.67 L378.51,102.82 L379.20,102.96 L379.90,103.10 L380.59,103.25 L381.28,103.39 L381.97,103.53 L382.66,103.67 L383.35,103.81 L384.04,103.94 L384.73,104.08 L385.42,104.22 L386.11,104.36 L386.80,104.49 L387.49,104.63 L388.18,104.76 L388.87,104.89 L389.56,105.03 L390.25,105.16 L390.94,105.29 L391.63,105.42 L392.32,105.55 L393.01,105.68 L393.70,105.81 L394.39,105.94 L395.08,106.07 L395.77,106.20 L396.46,106.32 L397.15,106.45 L397.84,106.57 L398.53,106.70 L399.22,106.82 L399.91,106.95 L400.60,107.07 L401.29,107.19 L401.98,107.32 L402.67,107.44 L403.36,107.56 L404.05,107.68 L404.74,107.80 L405.43,107.92 L406.12,108.04 L406.81,108.16 L407.50,108.27 L408.19,108.39 L408.88,108.51 L409.57,108.62 L410.26,108.74 L410.95,108.85 L411.65,108.97 L412.34,109.08 L413.03,109.20 L413.72,109.31 L414.41,109.42 L415.10,109.53 L415.79,109.65 L416.48,109.76 L417.17,109.87 L417.86,109.98 L418.55,110.09 L419.24,110.20 L419.93,110.30 L420.62,110.41 L421.31,110.52 L422.00,110.63 L422.69,110.73 L423.38,110.84 L424.07,110.95 L424.76,111.05 L425.45,111.15 L426.14,111.26 L426.83,111.36 L427.52,111.46 L428.21,111.57 L428.90,111.67 L429.59,111.77 L430.28,111.87 L430.97,111.97 L431.66,112.07 L432.35,112.17 L433.04,112.27 L433.73,112.37 L434.42,112.47 L435.11,112.56 L435.80,112.66 L436.49,112.76 L437.18,112.85 L437.87,112.95 L438.56,113.04 L439.25,113.13 L439.94,113.23 L440.63,113.32 L441.32,113.41 L442.01,113.50 L442.71,113.60 L443.40,113.69 L444.09,113.78 L444.78,113.87 L445.47,113.95 L446.16,114.04 L446.85,114.13 L447.54,114.22 L448.23,114.30 L448.92,114.39 L449.61,114.48 L450.30,114.56 L450.99,114.64 L451.68,114.73 L452.37,114.81 L453.06,114.89 L453.75,114.97 L454.44,115.06 L455.13,115.14 L455.82,115.22 L456.51,115.30 L457.20,115.37 L457.89,115.45 L458.58,115.53 L459.27,115.61 L459.96,115.68 L460.65,115.76 L461.34,115.83 L462.03,115.91 L462.72,115.98 L463.41,116.05 L464.10,116.13 L464.79,116.20 L465.48,116.27 L466.17,116.34 L466.86,116.41 L467.55,116.48 L468.24,116.55 L468.93,116.62 L469.62,116.68 L470.31,116.75 L471.00,116.82 L471.69,116.88 L472.38,116.95 L473.07,117.01 L473.76,117.08 L474.46,117.14 L475.15,117.20 L475.84,117.26 L476.53,117.32 L477.22,117.39 L477.91,117.45 L478.60,117.51 L479.29,117.56 L479.98,117.62 L480.67,117.68 L481.36,117.74 L482.05,117.79 L482.74,117.85 L483.43,117.91 L484.12,117.96 L484.81,118.02 L485.50,118.07 L486.19,118.12 L486.88,118.18 L487.57,118.23 L488.26,118.28 L488.95,118.33 L489.64,118.38 L490.33,118.44 L491.02,118.49 L491.71,118.54 L492.40,118.59 L493.09,118.63 L493.78,118.68 L494.47,118.73 L495.16,118.78 L495.85,118.83 L496.54,118.88 L497.23,118.92 L497.92,118.97 L498.61,119.02 L499.30,119.06 L499.99,119.11 L500.68,119.16 L501.37,119.20 L502.06,119.25 L502.75,119.30 L503.44,119.34 L504.13,119.39 L504.82,119.44 L505.51,119.48 L506.21,119.53 L506.90,119.57 L507.59,119.62 L508.28,119.67 L508.97,119.72 L509.66,119.76 L510.35,119.81 L511.04,119.86 L511.73,119.91 L512.42,119.96 L513.11,120.00 L513.80,120.05 L514.49,120.10 L515.18,120.15 L515.87,120.21 L516.56,120.26 L517.25,120.31 L517.94,120.36 L518.63,120.42 L519.32,120.47 L520.01,120.53 L520.70,120.59 L521.39,120.64 L522.08,120.70 L522.77,120.76" fill="none" stroke="#0000ff" stroke-width="1.75" stroke-dasharray="10.45 10.43" stroke-dashoffset="-0.3"/>
<path d="M40.31,201.98 L41.00,205.19 L41.69,208.43 L42.38,211.68 L43.07,214.95 L43.76,218.23 L44.45,221.51 L45.14,224.79 L45.83,228.07 L46.52,231.34 L47.21,234.60 L47.90,237.84 L48.59,241.07 L49.28,244.27 L49.97,247.44 L50.66,250.58 L51.35,253.69 L52.04,256.76 L52.73,259.80 L53.42,262.79 L54.11,265.74 L54.80,268.63 L55.49,271.48 L56.18,274.28 L56.87,277.03 L57.56,279.71 L58.25,282.34 L58.94,284.92 L59.63,287.43 L60.32,289.87 L61.01,292.26 L61.70,294.58 L62.39,296.83 L63.08,299.02 L63.77,301.14 L64.47,303.19 L65.16,305.17 L65.85,307.08 L66.54,308.92 L67.23,310.68 L67.92,312.38 L68.61,314.00 L69.30,315.55 L69.99,317.02 L70.68,318.42 L71.37,319.75 L72.06,321.00 L72.75,322.18 L73.44,323.28 L74.13,324.31 L74.82,325.26 L75.51,326.14 L76.20,326.94 L76.89,327.67 L77.58,328.32 L78.27,328.90 L78.96,329.40 L79.65,329.83 L80.34,330.18 L81.03,330.46 L81.72,330.66 L82.41,330.79 L83.10,330.84 L83.79,330.82 L84.48,330.73 L85.17,330.57 L85.86,330.33 L86.55,330.02 L87.24,329.63 L87.93,329.18 L88.62,328.65 L89.31,328.05 L90.00,327.39 L90.69,326.65 L91.38,325.84 L92.07,324.97 L92.76,324.02 L93.45,323.01 L94.14,321.93 L94.83,320.79 L95.52,319.58 L96.22,318.30 L96.91,316.96 L97.60,315.56 L98.29,314.10 L98.98,312.58 L99.67,310.99 L100.36,309.35 L101.05,307.64 L101.74,305.88 L102.43,304.07 L103.12,302.19 L103.81,300.27 L104.50,298.29 L105.19,296.26 L105.88,294.18 L106.57,292.05 L107.26,289.87 L107.95,287.65 L108.64,285.38 L109.33,283.06 L110.02,280.71 L110.71,278.31 L111.40,275.87 L112.09,273.40 L112.78,270.88 L113.47,268.34 L114.16,265.76 L114.85,263.14 L115.54,260.50 L116.23,257.83 L116.92,255.13 L117.61,252.40 L118.30,249.65 L118.99,246.88 L119.68,244.09 L120.37,241.27 L121.06,238.44 L121.75,235.60 L122.44,232.74 L123.13,229.86 L123.82,226.98 L124.51,224.08 L125.20,221.18 L125.89,218.27 L126.58,215.36 L127.27,212.44 L127.97,209.52 L128.66,206.60 L129.35,203.69 L130.04,200.77 L130.73,197.86 L131.42,194.96 L132.11,192.06 L132.80,189.17 L133.49,186.29 L134.18,183.43 L134.87,180.57 L135.56,177.73 L136.25,174.91 L136.94,172.10 L137.63,169.31 L138.32,166.54 L139.01,163.79 L139.70,161.06 L140.39,158.35 L141.08,155.67 L141.77,153.01 L142.46,150.37 L143.15,147.76 L143.84,145.18 L144.53,142.63 L145.22,140.10 L145.91,137.61 L146.60,135.14 L147.29,132.71 L147.98,130.31 L148.67,127.94 L149.36,125.60 L150.05,123.30 L150.74,121.02 L151.43,118.79 L152.12,116.59 L152.81,114.42 L153.50,112.29 L154.19,110.19 L154.88,108.14 L155.57,106.11 L156.26,104.13 L156.95,102.18 L157.64,100.26 L158.33,98.39 L159.03,96.55 L159.72,94.75 L160.41,92.98 L161.10,91.25 L161.79,89.56 L162.48,87.91 L163.17,86.29 L163.86,84.71 L164.55,83.17 L165.24,81.66 L165.93,80.19 L166.62,78.76 L167.31,77.36 L168.00,75.99 L168.69,74.67 L169.38,73.37 L170.07,72.12 L170.76,70.89 L171.45,69.70 L172.14,68.55 L172.83,67.43 L173.52,66.34 L174.21,65.28 L174.90,64.26 L175.59,63.27 L176.28,62.31 L176.97,61.38 L177.66,60.48 L178.35,59.61 L179.04,58.77 L179.73,57.96 L180.42,57.18 L181.11,56.43 L181.80,55.71 L182.49,55.01 L183.18,54.34 L183.87,53.70 L184.56,53.08 L185.25,52.49 L185.94,51.92 L186.63,51.38 L187.32,50.86 L188.01,50.37 L188.70,49.90 L189.39,49.45 L190.08,49.02 L190.78,48.62 L191.47,48.23 L192.16,47.87 L192.85,47.53 L193.54,47.21 L194.23,46.91 L194.92,46.62 L195.61,46.36 L196.30,46.11 L196.99,45.88 L197.68,45.67 L198.37,45.48 L199.06,45.30 L199.75,45.14 L200.44,44.99 L201.13,44.86 L201.82,44.74 L202.51,44.64 L203.20,44.55 L203.89,44.48 L204.58,44.42 L205.27,44.37 L205.96,44.33 L206.65,44.31 L207.34,44.30 L208.03,44.30 L208.72,44.31 L209.41,44.33 L210.10,44.37 L210.79,44.41 L211.48,44.46 L212.17,44.53 L212.86,44.60 L213.55,44.68 L214.24,44.77 L214.93,44.87 L215.62,44.98 L216.31,45.10 L217.00,45.22 L217.69,45.35 L218.38,45.49 L219.07,45.64 L219.76,45.79 L220.45,45.95 L221.14,46.12 L221.83,46.29 L222.53,46.47 L223.22,46.65 L223.91,46.84 L224.60,47.04 L225.29,47.24 L225.98,47.45 L226.67,47.66 L227.36,47.87 L228.05,48.09 L228.74,48.32 L229.43,48.55 L230.12,48.78 L230.81,49.02 L231.50,49.26 L232.19,49.50 L232.88,49.75 L233.57,50.00 L234.26,50.26 L234.95,50.52 L235.64,50.78 L236.33,51.04 L237.02,51.31 L237.71,51.58 L238.40,51.85 L239.09,52.13 L239.78,52.41 L240.47,52.69 L241.16,52.97 L241.85,53.25 L242.54,53.54 L243.23,53.83 L243.92,54.12 L244.61,54.41 L245.30,54.71 L245.99,55.00 L246.68,55.30 L247.37,55.60 L248.06,55.90 L248.75,56.20 L249.44,56.51 L250.13,56.81 L250.82,57.12 L251.51,57.42 L252.20,57.73 L252.89,58.04 L253.59,58.35 L254.28,58.66 L254.97,58.98 L255.66,59.29 L256.35,59.60 L257.04,59.92 L257.73,60.23 L258.42,60.55 L259.11,60.86 L259.80,61.18 L260.49,61.50 L261.18,61.82 L261.87,62.14 L262.56,62.46 L263.25,62.77 L263.94,63.09 L264.63,63.41 L265.32,63.73 L266.01,64.05 L266.70,64.38 L267.39,64.70 L268.08,65.02 L268.77,65.34 L269.46,65.66 L270.15,65.98 L270.84,66.30 L271.53,66.62 L272.22,66.94 L272.91,67.26 L273.60,67.58 L274.29,67.90 L274.98,68.22 L275.67,68.54 L276.36,68.86 L277.05,69.18 L277.74,69.50 L278.43,69.82 L279.12,70.14 L279.81,70.46 L280.50,70.77 L281.19,71.09 L281.88,71.41 L282.57,71.72 L283.26,72.04 L283.95,72.35 L284.64,72.67 L285.34,72.98 L286.03,73.30 L286.72,73.61 L287.41,73.92 L288.10,74.23 L288.79,74.54 L289.48,74.85 L290.17,75.16 L290.86,75.47 L291.55,75.77 L292.24,76.08 L292.93,76.39 L293.62,76.69 L294.31,76.99 L295.00,77.30 L295.69,77.60 L296.38,77.90 L297.07,78.20 L297.76,78.50 L298.45,78.79 L299.14,79.09 L299.83,79.39 L300.52,79.68 L301.21,79.97 L301.90,80.27 L302.59,80.56 L303.28,80.85 L303.97,81.14 L304.66,81.42 L305.35,81.71 L306.04,82.00 L306.73,82.28 L307.42,82.56 L308.11,82.84 L308.80,83.12 L309.49,83.40 L310.18,83.68 L310.87,83.95 L311.56,84.23 L312.25,84.50 L312.94,84.77 L313.63,85.05 L314.32,85.31 L315.01,85.58 L315.70,85.85 L316.39,86.11 L317.09,86.38 L317.78,86.64 L318.47,86.90 L319.16,87.16 L319.85,87.42 L320.54,87.67 L321.23,87.93 L321.92,88.18 L322.61,88.43 L323.30,88.68 L323.99,88.93 L324.68,89.18 L325.37,89.42 L326.06,89.67 L326.75,89.91 L327.44,90.15 L328.13,90.39 L328.82,90.63 L329.51,90.86 L330.20,91.10 L330.89,91.33 L331.58,91.56 L332.27,91.79 L332.96,92.02 L333.65,92.25 L334.34,92.48 L335.03,92.70 L335.72,92.92 L336.41,93.14 L337.10,93.36 L337.79,93.58 L338.48,93.80 L339.17,94.01 L339.86,94.23 L340.55,94.44 L341.24,94.65 L341.93,94.86 L342.62,95.07 L343.31,95.27 L344.00,95.48 L344.69,95.68 L345.38,95.88 L346.07,96.08 L346.76,96.28 L347.45,96.48 L348.15,96.67 L348.84,96.87 L349.53,97.06 L350.22,97.25 L350.91,97.44 L351.60,97.63 L352.29,97.82 L352.98,98.01 L353.67,98.19 L354.36,98.38 L355.05,98.56 L355.74,98.74 L356.43,98.92 L357.12,99.10 L357.81,99.27 L358.50,99.45 L359.19,99.63 L359.88,99.80 L360.57,99.97 L361.26,100.14 L361.95,100.31 L362.64,100.48 L363.33,100.65 L364.02,100.82 L364.71,100.98 L365.40,101.15 L366.09,101.31 L366.78,101.47 L367.47,101.63 L368.16,101.79 L368.85,101.95 L369.54,102.11 L370.23,102.27 L370.92,102.42 L371.61,102.58 L372.30,102.73 L372.99,102.89 L373.68,103.04 L374.37,103.19 L375.06,103.34 L375.75,103.49 L376.44,103.64 L377.13,103.79 L377.82,103.93 L378.51,104.08 L379.20,104.23 L379.90,104.37 L380.59,104.51 L381.28,104.66 L381.97,104.80 L382.66,104.94 L383.35,105.08 L384.04,105.22 L384.73,105.36 L385.42,105.50 L386.11,105.64 L386.80,105.78 L387.49,105.92 L388.18,106.05 L388.87,106.19 L389.56,106.32 L390.25,106.46 L390.94,106.59 L391.63,106.73 L392.32,106.86 L393.01,106.99 L393.70,107.12 L394.39,107.25 L395.08,107.38 L395.77,107.52 L396.46,107.64 L397.15,107.77 L397.84,107.90 L398.53,108.03 L399.22,108.16 L399.91,108.29 L400.60,108.41 L401.29,108.54 L401.98,108.67 L402.67,108.79 L403.36,108.92 L404.05,109.04 L404.74,109.17 L405.43,109.29 L406.12,109.41 L406.81,109.54 L407.50,109.66 L408.19,109.78 L408.88,109.90 L409.57,110.03 L410.26,110.15 L410.95,110.27 L411.65,110.39 L412.34,110.51 L413.03,110.63 L413.72,110.75 L414.41,110.86 L415.10,110.98 L415.79,111.10 L416.48,111.22 L417.17,111.33 L417.86,111.45 L418.55,111.57 L419.24,111.68 L419.93,111.80 L420.62,111.91 L421.31,112.03 L422.00,112.14 L422.69,112.25 L423.38,112.37 L424.07,112.48 L424.76,112.59 L425.45,112.70 L426.14,112.81 L426.83,112.92 L427.52,113.03 L428.21,113.14 L428.90,113.25 L429.59,113.36 L430.28,113.46 L430.97,113.57 L431.66,113.68 L432.35,113.78 L433.04,113.89 L433.73,113.99 L434.42,114.10 L435.11,114.20 L435.80,114.30 L436.49,114.40 L437.18,114.50 L437.87,114.60 L438.56,114.70 L439.25,114.80 L439.94,114.90 L440.63,115.00 L441.32,115.09 L442.01,115.19 L442.71,115.29 L443.40,115.38 L444.09,115.47 L444.78,115.57 L445.47,115.66 L446.16,115.75 L446.85,115.84 L447.54,115.93 L448.23,116.02 L448.92,116.10 L449.61,116.19 L450.30,116.27 L450.99,116.36 L451.68,116.44 L452.37,116.53 L453.06,116.61 L453.75,116.69 L454.44,116.77 L455.13,116.85 L455.82,116.92 L456.51,117.00 L457.20,117.08 L457.89,117.15 L458.58,117.22 L459.27,117.30 L459.96,117.37 L460.65,117.44 L461.34,117.51 L462.03,117.58 L462.72,117.64 L463.41,117.71 L464.10,117.78 L464.79,117.84 L465.48,117.90 L466.17,117.96 L466.86,118.02 L467.55,118.08 L468.24,118.14 L468.93,118.20 L469.62,118.26 L470.31,118.31 L471.00,118.36 L471.69,118.42 L472.38,118.47 L473.07,118.52 L473.76,118.57 L474.46,118.62 L475.15,118.66 L475.84,118.71 L476.53,118.76 L477.22,118.80 L477.91,118.84 L478.60,118.88 L479.29,118.93 L479.98,118.97 L480.67,119.00 L481.36,119.04 L482.05,119.08 L482.74,119.11 L483.43,119.15 L484.12,119.18 L484.81,119.21 L485.50,119.25 L486.19,119.28 L486.88,119.31 L487.57,119.34 L488.26,119.36 L488.95,119.39 L489.64,119.42 L490.33,119.44 L491.02,119.47 L491.71,119.49 L492.40,119.52 L493.09,119.54 L493.78,119.56 L494.47,119.59 L495.16,119.61 L495.85,119.63 L496.54,119.65 L497.23,119.67 L497.92,119.69 L498.61,119.71 L499.30,119.73 L499.99,119.75 L500.68,119.77 L501.37,119.79 L502.06,119.81 L502.75,119.83 L503.44,119.86 L504.13,119.88 L504.82,119.90 L505.51,119.92 L506.21,119.95 L506.90,119.97 L507.59,119.99 L508.28,120.02 L508.97,120.05 L509.66,120.08 L510.35,120.11 L511.04,120.14 L511.73,120.17 L512.42,120.21 L513.11,120.24 L513.80,120.28 L514.49,120.33 L515.18,120.37 L515.87,120.42 L516.56,120.46 L517.25,120.52 L517.94,120.57 L518.63,120.63 L519.32,120.69 L520.01,120.75 L520.70,120.82 L521.39,120.89 L522.08,120.97 L522.77,121.05" fill="none" stroke="#ff0000" stroke-width="1.75" stroke-dasharray="10.45 10.43" stroke-dashoffset="-1.0"/>
</g>
<text x="19.5" y="19.4" font-size="17px" font-weight="bold" font-style="italic" fill="#000">R</text>
<text x="32.0" y="19.4" font-size="18px" font-weight="bold" fill="#000">(t,r)</text>
<rect x="24.9" y="2.6" width="2.1" height="2" fill="#000"/>
<text x="539.8" y="133.1" font-size="16.8px" font-weight="bold" fill="#000">t</text>
<text x="131.5" y="98.4" font-size="21px" font-style="italic" fill="#000">t</text>
<text x="137.7" y="101.9" font-size="15px" font-style="italic" fill="#000">b</text>
</svg></div>
</body></html>
